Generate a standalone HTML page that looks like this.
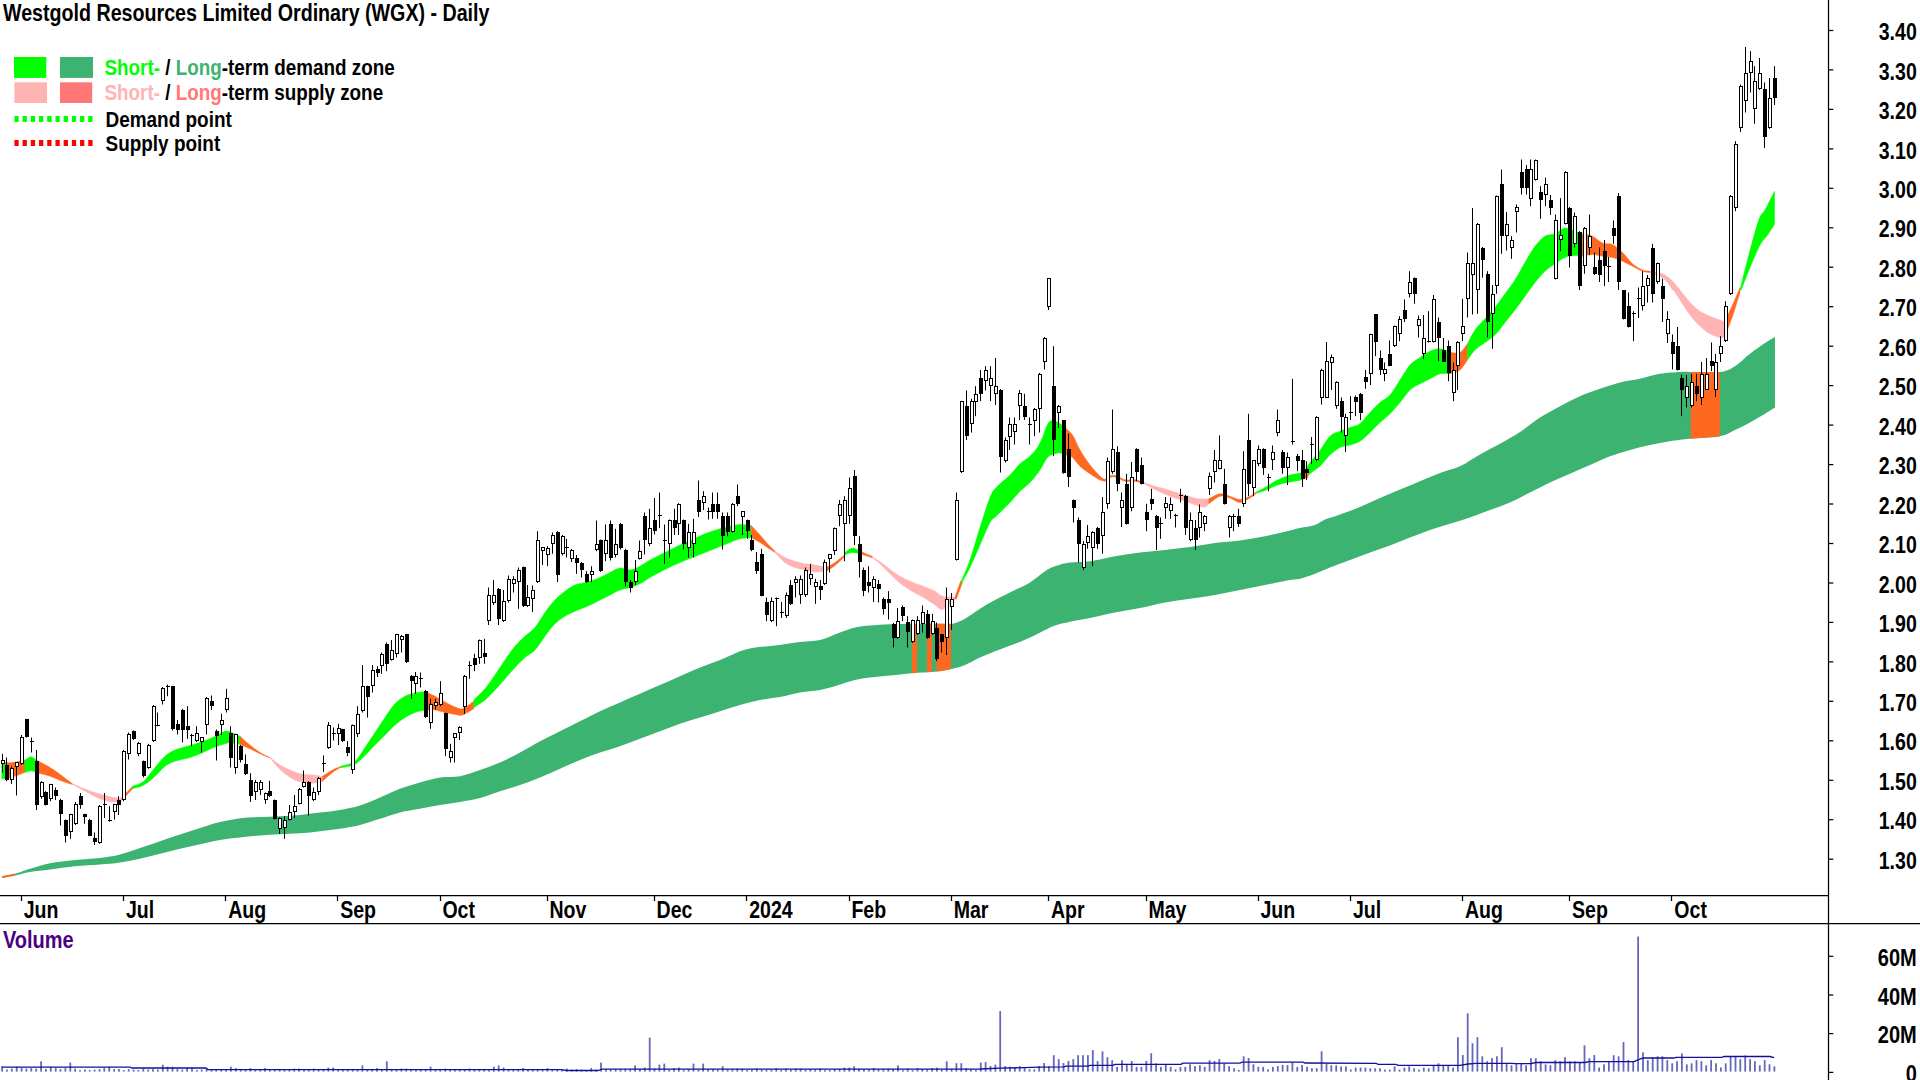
<!DOCTYPE html>
<html><head><meta charset="utf-8"><title>WGX Daily</title>
<style>html,body{margin:0;padding:0;background:#fff;overflow:hidden}svg{display:block}</style></head>
<body><svg width="1920" height="1080" viewBox="0 0 1920 1080">
<rect width="1920" height="1080" fill="#fff"/>
<path fill="#3cb371" d="M2 876.2C4.2 875.8 10.3 875 15 873.8C19.7 872.5 24.2 870.5 30 868.8C35.8 867 42.5 864.7 50 863.2C57.5 861.8 66.7 860.9 75 860C83.3 859.1 92.5 858.9 100 858C107.5 857.1 113.3 856.2 120 854.5C126.7 852.8 133.3 850.2 140 848C146.7 845.8 153.3 843.5 160 841.2C166.7 839 173.3 836.7 180 834.5C186.7 832.3 193.3 830.1 200 828C206.7 825.9 213.3 823.6 220 822C226.7 820.4 233.3 819.1 240 818.2C246.7 817.4 253.3 817.3 260 817C266.7 816.7 273.3 816.6 280 816.2C286.7 815.9 293.3 815.6 300 815C306.7 814.4 313.3 813.3 320 812.5C326.7 811.7 333.3 811.2 340 810C346.7 808.8 353.3 807.6 360 805.5C366.7 803.4 373.3 800.3 380 797.5C386.7 794.7 393.3 791.2 400 788.8C406.7 786.2 413.3 784.4 420 782.5C426.7 780.6 433.3 778.5 440 777.5C446.7 776.5 453.3 777.5 460 776.2C466.7 775 473.3 772.3 480 770C486.7 767.7 493.3 765.4 500 762.5C506.7 759.6 513.3 756 520 752.5C526.7 749 533.3 744.8 540 741.2C546.7 737.7 553.3 734.6 560 731.2C566.7 727.9 573.3 724.6 580 721.2C586.7 717.9 593.3 714.4 600 711.2C606.7 708.1 613.3 705.4 620 702.5C626.7 699.6 633.3 696.7 640 693.8C646.7 690.8 653.3 687.9 660 685C666.7 682.1 673.3 679.2 680 676.2C686.7 673.3 693.3 670.2 700 667.5C706.7 664.8 713.3 662.7 720 660C726.7 657.3 734.2 653.3 740 651.2C745.8 649.2 749.2 648.5 755 647.5C760.8 646.5 767.5 646.4 775 645.5C782.5 644.6 792.5 642.9 800 642C807.5 641.1 813.3 641.6 820 640C826.7 638.4 834.2 634.6 840 632.5C845.8 630.4 850 628.7 855 627.5C860 626.3 864.2 626 870 625.5C875.8 625 882.5 624.5 890 624.2C897.5 624 906.7 623.8 915 623.8C923.3 623.7 933.8 623.8 940 623.8C946.2 623.8 948.3 624.6 952.5 623.8C956.7 622.9 960.4 621.2 965 618.8C969.6 616.2 975 611.9 980 608.8C985 605.6 989.2 603.1 995 600C1000.8 596.9 1009.2 592.9 1015 590C1020.8 587.1 1025 585.6 1030 582.5C1035 579.4 1040.8 574 1045 571.2C1049.2 568.5 1050.8 567.7 1055 566.2C1059.2 564.8 1064.2 563.3 1070 562.5C1075.8 561.7 1082.5 562.3 1090 561.2C1097.5 560.2 1106.7 557.7 1115 556.2C1123.3 554.8 1131.7 553.5 1140 552.5C1148.3 551.5 1156.7 550.9 1165 550C1173.3 549.1 1181.7 548.2 1190 547C1198.3 545.8 1206.7 544.1 1215 543C1223.3 541.9 1231.7 541.6 1240 540.5C1248.3 539.4 1256.7 537.9 1265 536.2C1273.3 534.6 1284.2 531.9 1290 530.5C1295.8 529.1 1295.8 528.9 1300 528C1304.2 527.1 1310.8 526.4 1315 525C1319.2 523.6 1320.8 521.2 1325 519.5C1329.2 517.8 1334.2 516.6 1340 514.5C1345.8 512.4 1353.3 509.8 1360 507C1366.7 504.2 1373.3 500.9 1380 498C1386.7 495.1 1393.3 492.3 1400 489.5C1406.7 486.7 1413.3 484 1420 481.2C1426.7 478.5 1433.3 475.5 1440 473C1446.7 470.5 1453.3 469.3 1460 466.2C1466.7 463.2 1473.3 458.2 1480 454.5C1486.7 450.8 1493.3 447.5 1500 443.8C1506.7 440 1513.3 436.4 1520 432C1526.7 427.6 1533.3 421.8 1540 417.5C1546.7 413.2 1553.3 409.8 1560 406.2C1566.7 402.7 1573.3 399.2 1580 396.2C1586.7 393.3 1593.3 391 1600 388.8C1606.7 386.5 1613.3 384.2 1620 382.5C1626.7 380.8 1633.3 380.2 1640 378.8C1646.7 377.3 1653.3 374.9 1660 373.8C1666.7 372.6 1675 372.3 1680 372C1685 371.7 1683.3 372 1690 372C1696.7 372 1712.5 373 1720 372C1727.5 371 1730 369.3 1735 366.2C1740 363.2 1745 357.6 1750 353.8C1755 349.9 1760.8 345.8 1765 343C1769.2 340.2 1773.3 338 1775 337L1775 407.5C1773.3 408.5 1769.2 411.2 1765 413.8C1760.8 416.2 1755 419.8 1750 422.5C1745 425.2 1740 427.7 1735 430C1730 432.3 1727.5 434.8 1720 436.2C1712.5 437.7 1698.3 437.9 1690 438.8C1681.7 439.6 1676.7 440.2 1670 441.2C1663.3 442.3 1656.7 443.5 1650 445C1643.3 446.5 1636.7 448.1 1630 450C1623.3 451.9 1616.7 453.8 1610 456.2C1603.3 458.8 1596.7 462.1 1590 465C1583.3 467.9 1576.7 470.8 1570 473.8C1563.3 476.7 1556.7 479.4 1550 482.5C1543.3 485.6 1536.7 489.2 1530 492.5C1523.3 495.8 1516.7 499.6 1510 502.5C1503.3 505.4 1496.7 507.5 1490 510C1483.3 512.5 1476.7 515.2 1470 517.5C1463.3 519.8 1456.7 521.7 1450 523.8C1443.3 525.8 1436.7 527.7 1430 530C1423.3 532.3 1416.7 534.9 1410 537.5C1403.3 540.1 1396.7 543 1390 545.5C1383.3 548 1376.7 550.1 1370 552.5C1363.3 554.9 1356.7 557.5 1350 560C1343.3 562.5 1335.8 565.2 1330 567.5C1324.2 569.8 1320 571.9 1315 573.8C1310 575.6 1304.2 577.7 1300 578.8C1295.8 579.8 1295.8 579 1290 580C1284.2 581 1273.3 583.3 1265 585C1256.7 586.7 1248.3 588.3 1240 590C1231.7 591.7 1223.3 593.5 1215 595C1206.7 596.5 1198.3 597.5 1190 598.8C1181.7 600 1173.3 601 1165 602.5C1156.7 604 1148.3 606.3 1140 608C1131.7 609.7 1123.3 610.8 1115 612.5C1106.7 614.2 1097.5 616.5 1090 618C1082.5 619.5 1075.8 620.5 1070 621.8C1064.2 623 1059.2 624.1 1055 625.5C1050.8 626.9 1049.2 628 1045 630C1040.8 632 1035 635.2 1030 637.5C1025 639.8 1020.8 641.5 1015 643.8C1009.2 646 1000.8 649 995 651.2C989.2 653.5 985 655.2 980 657.5C975 659.8 969.6 663.1 965 665C960.4 666.9 956.7 667.7 952.5 668.8C948.3 669.8 946.2 670.5 940 671.2C933.8 672 923.3 672.3 915 673C906.7 673.7 897.5 674.8 890 675.5C882.5 676.2 875.8 676.8 870 677.5C864.2 678.2 860 678.8 855 680C850 681.2 845.8 682.8 840 684.5C834.2 686.2 826.7 688.7 820 690C813.3 691.3 806.7 691.3 800 692.5C793.3 693.7 786.7 695.8 780 697C773.3 698.2 766.7 698.7 760 700C753.3 701.3 746.7 703.1 740 705C733.3 706.9 726.7 709.2 720 711.2C713.3 713.3 706.7 715.4 700 717.5C693.3 719.6 686.7 721.5 680 723.8C673.3 726 666.7 728.8 660 731.2C653.3 733.8 646.7 736.2 640 738.8C633.3 741.2 626.7 744 620 746.2C613.3 748.5 606.7 750.2 600 752.5C593.3 754.8 586.7 757.3 580 760C573.3 762.7 566.7 765.8 560 768.8C553.3 771.7 546.7 774.8 540 777.5C533.3 780.2 526.7 782.7 520 785C513.3 787.3 506.7 789.1 500 791.2C493.3 793.4 486.7 796.2 480 798C473.3 799.8 466.7 800.8 460 802C453.3 803.2 446.7 803.9 440 805C433.3 806.1 426.7 807.5 420 808.8C413.3 810 406.7 810.8 400 812.5C393.3 814.2 386.7 816.7 380 818.8C373.3 820.8 366.7 823.3 360 825C353.3 826.7 346.7 827.7 340 828.8C333.3 829.8 326.7 830.5 320 831.2C313.3 832 306.7 832.8 300 833.2C293.3 833.8 286.7 833.9 280 834.2C273.3 834.6 266.7 835 260 835.5C253.3 836 246.7 836.8 240 837.5C233.3 838.2 226.7 838.9 220 840C213.3 841.1 206.7 842.8 200 844.2C193.3 845.7 186.7 847.2 180 848.8C173.3 850.3 166.7 852.1 160 853.8C153.3 855.4 146.7 857.3 140 858.8C133.3 860.2 126.7 861.5 120 862.5C113.3 863.5 107.5 863.9 100 864.5C92.5 865.1 83.3 865.4 75 866.2C66.7 867.1 57.5 868.5 50 869.5C42.5 870.5 35.8 871 30 872C24.2 873 19.7 874.5 15 875.5C10.3 876.5 4.2 877.6 2 878Z"/>
<polygon fill="#ff6820" points="2,876.3 15,873.6 15,875.4 2,878"/>
<polygon fill="#ff6820" points="912,623.8 912.8,623.8 913.7,623.8 914.5,623.8 915.3,623.8 916.2,623.8 917,623.8 917,672.9 916.2,672.9 915.3,673 914.5,673 913.7,673.1 912.8,673.2 912,673.3"/>
<polygon fill="#ff6820" points="927,623.8 927.8,623.8 928.7,623.8 929.5,623.8 930.3,623.8 931.2,623.8 932,623.8 932,671.8 931.2,671.9 930.3,671.9 929.5,672 928.7,672 927.8,672.1 927,672.2"/>
<polygon fill="#ff6820" points="936.5,623.8 938.9,623.8 941.3,623.8 943.8,623.8 946.2,623.8 948.6,623.8 951,623.8 951,669 948.6,669.5 946.2,670 943.8,670.5 941.3,671 938.9,671.3 936.5,671.5"/>
<polygon fill="#ff6820" points="1690.8,372 1695.6,372 1700.5,372 1705.4,372 1710.2,372 1715.1,372 1720,372 1720,436.2 1715.1,436.7 1710.2,437.1 1705.4,437.5 1700.5,437.9 1695.6,438.3 1690.8,438.7"/>
<path fill="#00ff00" stroke="#00ff00" stroke-width="0.5" d="M1.8 762.5C2.4 762.5 4.9 762.5 5.5 762.5L5.5 778.2C4.9 778.4 2.4 778.9 1.8 779Z"/>
<path fill="#ff6820" stroke="#ff6820" stroke-width="0.5" d="M5.5 762.5C6.7 762.5 9.2 762.9 12.5 762.5C15.8 762.1 22.9 760.4 25 760L25 772.5C22.9 773.2 15.8 776 12.5 777C9.2 778 6.7 778 5.5 778.2Z"/>
<path fill="#00ff00" stroke="#00ff00" stroke-width="0.5" d="M25 760C26 759.5 29.4 756.8 31.2 756.8C33.1 756.8 35.4 759.5 36.2 760L36.2 772.5C35.4 772.2 33.1 770.8 31.2 770.8C29.4 770.8 26 772.2 25 772.5Z"/>
<path fill="#ff6820" stroke="#ff6820" stroke-width="0.5" d="M36.2 760C38.5 761.2 45.6 764.8 50 767.5C54.4 770.2 58.8 773.5 62.5 776.2C66.2 779 70.8 782.5 72.5 783.8L72.5 784.5C70.8 784 66.2 782.6 62.5 781.2C58.8 779.9 54.4 777.7 50 776.2C45.6 774.8 38.5 773.1 36.2 772.5Z"/>
<path fill="#ffb3b3" stroke="#ffb3b3" stroke-width="0.5" d="M72.5 783.8C75 784.8 82.1 788 87.5 790C92.9 792 100 794.2 105 795.5C110 796.8 114.6 797.8 117.5 798C120.4 798.2 121.7 797.2 122.5 797L122.5 800C120.8 800.3 116.2 802.2 112.5 802C108.8 801.8 104.2 800.3 100 798.8C95.8 797.2 92.1 794.9 87.5 792.5C82.9 790.1 75 785.8 72.5 784.5Z"/>
<path fill="#ff6820" stroke="#ff6820" stroke-width="0.5" d="M122.5 797C124.2 795.2 130.8 788 132.5 786.2L132.5 788.8C130.8 790.6 124.2 798.1 122.5 800Z"/>
<path fill="#00ff00" stroke="#00ff00" stroke-width="0.5" d="M132.5 786.2C134.4 785.4 140 784.4 143.8 781.2C147.5 778.1 151.5 771.7 155 767.5C158.5 763.3 161.7 759.2 165 756.2C168.3 753.3 170.8 751.8 175 750C179.2 748.2 185.8 746.8 190 745.5C194.2 744.2 196.2 743.8 200 742.5C203.8 741.2 208.3 739.4 212.5 737.5C216.7 735.6 221.9 732.1 225 731.2C228.1 730.4 228.8 731.7 231.2 732.5C233.8 733.3 238.5 735.6 240 736.2L240 744.5C238.5 744.2 233.8 742.6 231.2 742.5C228.8 742.4 228.1 742.8 225 743.8C221.9 744.7 216.7 746.3 212.5 748C208.3 749.7 203.8 752.2 200 753.8C196.2 755.3 194.2 756.2 190 757.5C185.8 758.8 179.2 759.8 175 761.2C170.8 762.7 168.3 763.8 165 766.2C161.7 768.8 158.5 773.1 155 776.2C151.5 779.4 147.5 782.9 143.8 785C140 787.1 134.4 788.1 132.5 788.8Z"/>
<path fill="#ff6820" stroke="#ff6820" stroke-width="0.5" d="M240 736.2C241.7 737.7 246.7 742.3 250 745C253.3 747.7 256.7 750.4 260 752.5C263.3 754.6 268.3 756.7 270 757.5L270 758C268.3 757.3 263.3 755.3 260 753.8C256.7 752.2 253.3 750.3 250 748.8C246.7 747.2 241.7 745.2 240 744.5Z"/>
<path fill="#ffb3b3" stroke="#ffb3b3" stroke-width="0.5" d="M270 757.5C271.7 758.8 276.7 762.9 280 765C283.3 767.1 286.7 768.5 290 770C293.3 771.5 296.2 772.9 300 773.8C303.8 774.6 308.8 774.6 312.5 775C316.2 775.4 320.8 776 322.5 776.2L322.5 781.8C320.8 782 316.2 783.2 312.5 783.2C308.8 783.2 303.8 782.8 300 781.8C296.2 780.8 293.3 779.3 290 777.2C286.7 775.2 283.3 772.7 280 769.5C276.7 766.3 271.7 759.9 270 758Z"/>
<path fill="#ff6820" stroke="#ff6820" stroke-width="0.5" d="M322.5 776.2C324.2 775.2 329.4 771.7 332.5 770C335.6 768.3 339.8 766.9 341.2 766.2L341.2 767C339.8 767.9 335.6 770.1 332.5 772.5C329.4 774.9 324.2 779.8 322.5 781.2Z"/>
<path fill="#00ff00" stroke="#00ff00" stroke-width="0.5" d="M341.2 766.2C343.5 765.4 351 764.4 355 761.2C359 758.1 361.7 752.3 365 747.5C368.3 742.7 371.7 737.5 375 732.5C378.3 727.5 381.7 722.3 385 717.5C388.3 712.7 391.7 707.3 395 703.8C398.3 700.2 401.7 698 405 696.2C408.3 694.5 411.7 693.8 415 693C418.3 692.2 423.3 692 425 691.8L425 710C423.3 710.4 418.3 711.2 415 712.5C411.7 713.8 408.3 715.4 405 717.5C401.7 719.6 398.3 722.1 395 725C391.7 727.9 388.3 731.7 385 735C381.7 738.3 378.3 741.6 375 745C371.7 748.4 368.3 752.3 365 755.5C361.7 758.7 359 762.2 355 764.2C351 766.3 343.5 767.2 341.2 767.8Z"/>
<path fill="#ff6820" stroke="#ff6820" stroke-width="0.5" d="M425 691.8C426.7 692.5 431.7 694.5 435 696.2C438.3 698 441.7 700.2 445 702C448.3 703.8 452.1 705.9 455 707C457.9 708.1 459.4 709.7 462.5 708.8C465.6 707.8 471.9 702.5 473.8 701.2L473.8 708.8C471.9 709.8 465.6 714 462.5 715C459.4 716 457.9 714.9 455 714.5C452.1 714.1 448.3 713.2 445 712.5C441.7 711.8 438.3 710.4 435 710C431.7 709.6 426.7 710 425 710Z"/>
<path fill="#00ff00" stroke="#00ff00" stroke-width="0.5" d="M473.8 700C475.6 698.1 481.5 692.9 485 688.8C488.5 684.6 491.7 679.8 495 675C498.3 670.2 501.7 664.8 505 660C508.3 655.2 511.7 650.2 515 646.2C518.3 642.3 521.7 639.4 525 636.2C528.3 633.1 531.7 631.5 535 627.5C538.3 623.5 541.7 617.1 545 612.5C548.3 607.9 551.7 603.5 555 600C558.3 596.5 561.7 593.8 565 591.2C568.3 588.8 571.2 586.5 575 585C578.8 583.5 583.3 583.2 587.5 582C591.7 580.8 596.2 579.1 600 577.5C603.8 575.9 606.7 574.1 610 572.5C613.3 570.9 616.7 568.4 620 568C623.3 567.6 626.7 570.3 630 570C633.3 569.7 636.7 567.9 640 566.2C643.3 564.6 646.7 561.9 650 560C653.3 558.1 656.7 556.7 660 555C663.3 553.3 666.7 551.7 670 550C673.3 548.3 676.2 546.8 680 545C683.8 543.2 688.3 541.4 692.5 539.5C696.7 537.6 700.8 535.4 705 533.8C709.2 532.1 713.3 530.8 717.5 529.5C721.7 528.2 726.2 527.1 730 526.2C733.8 525.4 736.5 524.6 740 524.5C743.5 524.4 749.4 525.3 751.2 525.5L751.2 537.5C749.4 537.7 743.5 537.9 740 538.8C736.5 539.6 733.8 541 730 542.5C726.2 544 721.7 545.8 717.5 547.5C713.3 549.2 709.2 550.8 705 552.5C700.8 554.2 696.7 555.8 692.5 557.5C688.3 559.2 683.8 560.9 680 562.5C676.2 564.1 673.3 565.4 670 567C666.7 568.6 663.3 570.2 660 572C656.7 573.8 653.3 575.5 650 577.5C646.7 579.5 643.3 582.1 640 583.8C636.7 585.4 633.3 586.5 630 587.5C626.7 588.5 623.3 588.8 620 590C616.7 591.2 613.3 593.3 610 595C606.7 596.7 603.8 598.1 600 600C596.2 601.9 591.7 604.4 587.5 606.2C583.3 608.1 578.8 609.6 575 611.2C571.2 612.9 568.3 614.2 565 616.2C561.7 618.3 558.3 620.4 555 623.8C551.7 627.1 548.3 631.9 545 636.2C541.7 640.6 538.3 646.5 535 650C531.7 653.5 528.3 654.6 525 657.5C521.7 660.4 518.3 664 515 667.5C511.7 671 508.3 675 505 678.8C501.7 682.5 498.3 686.5 495 690C491.7 693.5 488.5 697.1 485 700C481.5 702.9 475.6 706.2 473.8 707.5Z"/>
<path fill="#ff6820" stroke="#ff6820" stroke-width="0.5" d="M751.2 525.5C752.7 527.1 757.3 532 760 535C762.7 538 765 541 767.5 543.8C770 546.5 773.8 550 775 551.2L775 552.5C773.8 551.7 770 549.2 767.5 547.5C765 545.8 762.7 544.2 760 542.5C757.3 540.8 752.7 538.3 751.2 537.5Z"/>
<path fill="#ffb3b3" stroke="#ffb3b3" stroke-width="0.5" d="M775 551.2C776.7 552.3 781.7 555.8 785 557.5C788.3 559.2 791.7 560.2 795 561.2C798.3 562.3 801.7 563.1 805 563.8C808.3 564.4 811.5 564.4 815 565C818.5 565.6 824.4 567.1 826.2 567.5L826.2 571.2C824.4 571.4 818.5 572.2 815 572C811.5 571.8 808.3 570.8 805 570C801.7 569.2 798.3 568.8 795 567.5C791.7 566.2 788.3 565 785 562.5C781.7 560 776.7 554.2 775 552.5Z"/>
<path fill="#ff6820" stroke="#ff6820" stroke-width="0.5" d="M826.2 567.5C827.7 566.7 831.9 564.7 835 562.5C838.1 560.3 843.3 555.8 845 554.5L845 556.2C843.3 557.8 838.1 563 835 565.5C831.9 568 827.7 570.3 826.2 571.2Z"/>
<path fill="#00ff00" stroke="#00ff00" stroke-width="0.5" d="M845 552.5C846.2 551.8 850 548.2 852.5 548C855 547.8 858.8 550.7 860 551.2L860 553.8C858.8 553.5 855 552.4 852.5 552.5C850 552.6 846.2 554.2 845 554.5Z"/>
<path fill="#ff6820" stroke="#ff6820" stroke-width="0.5" d="M860 551.2C862.1 552.1 870.4 555.6 872.5 556.5L872.5 557.8C870.4 557.1 862.1 554.4 860 553.8Z"/>
<path fill="#ffb3b3" stroke="#ffb3b3" stroke-width="0.5" d="M872.5 556.9C874 557.8 878.3 560.4 881.2 562.5C884.2 564.6 886.9 567.1 890 569.4C893.1 571.7 896.7 574.3 900 576.2C903.3 578.2 906.7 579.8 910 581.2C913.3 582.7 917.1 583.9 920 585C922.9 586.1 925 587.1 927.5 588.1C930 589.2 932.9 590.1 935 591.2C937.1 592.4 938.1 594 940 595C941.9 596 944.2 596.9 946.2 597.2C948.3 597.6 951 596.6 952.5 596.9C954 597.1 955 598.4 955.5 598.8L955.5 598.8C955 599.4 954 601 952.5 602.5C951 604 948.1 606.4 946.2 607.5C944.4 608.6 943.1 609.8 941.2 609.4C939.4 609 937.3 606.6 935 605C932.7 603.4 930 601.6 927.5 600C925 598.4 922.9 597.3 920 595.6C917.1 594 913.3 592.1 910 590C906.7 587.9 903.3 585.8 900 583.1C896.7 580.4 893.1 576.8 890 573.8C886.9 570.7 884.2 567.7 881.2 565C878.3 562.3 874 558.8 872.5 557.5Z"/>
<path fill="#ff6820" stroke="#ff6820" stroke-width="0.5" d="M954.5 598.5C955.5 595.5 959.7 583.7 960.8 580.8L962.5 582.5C961.5 585.2 957.5 596.2 956.5 599Z"/>
<path fill="#00ff00" stroke="#00ff00" stroke-width="0.5" d="M961.2 581.2C962.7 577.7 966.9 569 970 560C973.1 551 976.7 537.9 980 527.5C983.3 517.1 987.3 504.2 990 497.5C992.7 490.8 992.9 491.2 996.2 487.5C999.6 483.8 1006 479 1010 475C1014 471 1016.7 466.9 1020 463.8C1023.3 460.6 1027.1 459 1030 456.2C1032.9 453.5 1035.4 450.6 1037.5 447.5C1039.6 444.4 1041 440.8 1042.5 437.5C1044 434.2 1045 430.2 1046.2 427.5C1047.5 424.8 1048.1 422.2 1050 421.2C1051.9 420.3 1054.8 420.8 1057.5 422C1060.2 423.2 1064.8 427.6 1066.2 428.8L1066.2 455C1065.2 454.7 1061.9 453.2 1060 453C1058.1 452.8 1057.1 453 1055 453.8C1052.9 454.5 1050 454.8 1047.5 457.5C1045 460.2 1042.9 465.8 1040 470C1037.1 474.2 1033.3 479 1030 482.5C1026.7 486 1023.3 487.9 1020 491.2C1016.7 494.6 1014 498.3 1010 502.5C1006 506.7 999.6 512.9 996.2 516.2C992.9 519.6 992.7 517.7 990 522.5C987.3 527.3 983.3 537.5 980 545C976.7 552.5 973.1 561 970 567.5C966.9 574 962.7 581 961.2 583.8Z"/>
<path fill="#ff6820" stroke="#ff6820" stroke-width="0.5" d="M1066.2 428.8C1067.3 429.8 1070.2 431.5 1072.5 435C1074.8 438.5 1077.1 445 1080 450C1082.9 455 1086.7 460.6 1090 465C1093.3 469.4 1097.5 473.8 1100 476.2C1102.5 478.7 1104.2 479 1105 479.5L1105 481.2C1104.2 481 1102.5 481.2 1100 480C1097.5 478.8 1093.3 476 1090 473.8C1086.7 471.5 1082.9 469 1080 466.2C1077.1 463.5 1074.8 459.4 1072.5 457.5C1070.2 455.6 1067.3 455.4 1066.2 455Z"/>
<path fill="#ff6820" stroke="#ff6820" stroke-width="0.5" d="M1105 479.5C1106 478.8 1109.2 476 1111.2 475.5C1113.3 475 1115.2 475.5 1117.5 476.2C1119.8 477 1122.1 479.2 1125 479.8C1127.9 480.3 1131.9 479.3 1135 479.8C1138.1 480.2 1142.3 482 1143.8 482.5L1143.8 483.5C1142.3 483.1 1138.1 481.6 1135 481.2C1131.9 480.9 1127.9 481.8 1125 481.2C1122.1 480.7 1119.8 478.5 1117.5 477.8C1115.2 477 1113.3 476.4 1111.2 477C1109.2 477.6 1106 480.5 1105 481.2Z"/>
<path fill="#ffb3b3" stroke="#ffb3b3" stroke-width="0.5" d="M1143.8 482.5C1145.6 483.1 1150.6 484.9 1155 486.2C1159.4 487.6 1165 489 1170 490.5C1175 492 1180.4 493.6 1185 495C1189.6 496.4 1193.5 498.1 1197.5 498.8C1201.5 499.4 1206.9 498.8 1208.8 498.8L1208.8 503.8C1208.1 504.3 1206.9 506.7 1205 507C1203.1 507.3 1200.8 506.5 1197.5 505.5C1194.2 504.5 1189.6 502.8 1185 501.2C1180.4 499.7 1175 498.2 1170 496.2C1165 494.3 1159.4 491.6 1155 489.5C1150.6 487.4 1145.6 484.5 1143.8 483.5Z"/>
<path fill="#ff6820" stroke="#ff6820" stroke-width="0.5" d="M1208.8 498.8C1210.6 497.9 1216.5 494.2 1220 493.8C1223.5 493.3 1226.7 495.3 1230 496.2C1233.3 497.2 1236.7 499.5 1240 499.5C1243.3 499.5 1247.3 497.5 1250 496.2C1252.7 495 1255.2 492.7 1256.2 492L1256.2 493.2C1255.2 494 1252.7 496.5 1250 498C1247.3 499.5 1243.3 502.5 1240 502.5C1236.7 502.5 1233.3 499 1230 498C1226.7 497 1223.5 495.3 1220 496.2C1216.5 497.2 1210.6 502.5 1208.8 503.8Z"/>
<path fill="#00ff00" stroke="#00ff00" stroke-width="0.5" d="M1256.2 492C1257.7 491.2 1261.5 489.5 1265 487.5C1268.5 485.5 1273.3 482.1 1277.5 480C1281.7 477.9 1285.8 476.3 1290 475C1294.2 473.7 1299.2 474.1 1302.5 472C1305.8 469.9 1307.1 466.1 1310 462.5C1312.9 458.9 1318.3 452.5 1320 450.5L1320 466.2C1318.3 467.5 1312.9 471.5 1310 473.8C1307.1 476 1305.8 478.1 1302.5 479.5C1299.2 480.9 1294.2 481.1 1290 482C1285.8 482.9 1281.7 483.6 1277.5 485C1273.3 486.4 1268.5 489.1 1265 490.5C1261.5 491.9 1257.7 492.8 1256.2 493.2Z"/>
<path fill="#00ff00" stroke="#00ff00" stroke-width="0.5" d="M1320 450.5C1321.7 448.1 1326.7 439.5 1330 436.2C1333.3 433 1336.7 432.7 1340 431.2C1343.3 429.8 1346.7 428.8 1350 427.5C1353.3 426.2 1356.7 426.2 1360 423.8C1363.3 421.2 1366.7 416 1370 412.5C1373.3 409 1376.7 405.4 1380 402.5C1383.3 399.6 1386.7 398.8 1390 395C1393.3 391.2 1396.7 385 1400 380C1403.3 375 1406.7 368.8 1410 365C1413.3 361.2 1416.7 359.8 1420 357.5C1423.3 355.2 1426.7 352.7 1430 351.2C1433.3 349.8 1436.7 348.5 1440 348.8C1443.3 349 1448.3 351.9 1450 352.5L1450 373.8C1448.3 373.8 1443.3 372.9 1440 373.8C1436.7 374.6 1433.3 377.1 1430 378.8C1426.7 380.4 1423.3 381.9 1420 383.8C1416.7 385.6 1413.3 386.9 1410 390C1406.7 393.1 1403.3 398.5 1400 402.5C1396.7 406.5 1393.3 410.4 1390 413.8C1386.7 417.1 1383.3 419.4 1380 422.5C1376.7 425.6 1373.3 429.4 1370 432.5C1366.7 435.6 1363.3 439.2 1360 441.2C1356.7 443.3 1353.3 444 1350 445C1346.7 446 1343.3 445.8 1340 447.5C1336.7 449.2 1333.3 451.9 1330 455C1326.7 458.1 1321.7 464.4 1320 466.2Z"/>
<path fill="#ff6820" stroke="#ff6820" stroke-width="0.5" d="M1450 352.5C1451.7 352.5 1457.1 354 1460 352.5C1462.9 351 1466.2 345.2 1467.5 343.8L1467.5 360C1466.2 361.7 1462.9 367.7 1460 370C1457.1 372.3 1451.7 373.1 1450 373.8Z"/>
<path fill="#00ff00" stroke="#00ff00" stroke-width="0.5" d="M1467.5 343.8C1468.8 341.5 1472.1 334.2 1475 330C1477.9 325.8 1481.7 322.5 1485 318.8C1488.3 315 1491.7 311.7 1495 307.5C1498.3 303.3 1501.7 298.3 1505 293.8C1508.3 289.2 1511.7 285.2 1515 280C1518.3 274.8 1521.7 268.1 1525 262.5C1528.3 256.9 1531.7 250.6 1535 246.2C1538.3 241.9 1541.7 238.3 1545 236.2C1548.3 234.2 1551.7 235.1 1555 233.8C1558.3 232.4 1561.7 228.4 1565 228C1568.3 227.6 1572.1 230.3 1575 231.2C1577.9 232.2 1581.2 233.3 1582.5 233.8L1582.5 256.2C1581.2 256.1 1577.9 255.3 1575 255.5C1572.1 255.7 1568.3 256.1 1565 257.5C1561.7 258.9 1558.3 261.5 1555 263.8C1551.7 266 1548.3 268.1 1545 271.2C1541.7 274.4 1538.3 278.3 1535 282.5C1531.7 286.7 1528.3 291.7 1525 296.2C1521.7 300.8 1518.3 305.6 1515 310C1511.7 314.4 1508.3 318.3 1505 322.5C1501.7 326.7 1498.3 331.7 1495 335C1491.7 338.3 1488.3 340 1485 342.5C1481.7 345 1477.9 347.1 1475 350C1472.1 352.9 1468.8 358.3 1467.5 360Z"/>
<path fill="#ff6820" stroke="#ff6820" stroke-width="0.5" d="M1582.5 233.8C1584.2 234.2 1589.2 234.7 1592.5 236.2C1595.8 237.8 1599.2 241.6 1602.5 243C1605.8 244.4 1609.2 242.9 1612.5 244.5C1615.8 246.1 1619.2 249.3 1622.5 252.5C1625.8 255.7 1629.2 260.8 1632.5 263.8C1635.8 266.7 1639.6 268.8 1642.5 270C1645.4 271.2 1648.8 271 1650 271.2L1650 272.5C1648.8 272.3 1645.4 272.3 1642.5 271.2C1639.6 270.2 1635.8 267.9 1632.5 266.2C1629.2 264.6 1625.8 262.7 1622.5 261.2C1619.2 259.8 1615.8 258.3 1612.5 257.5C1609.2 256.7 1605.8 256.8 1602.5 256.2C1599.2 255.8 1595.8 254.5 1592.5 254.5C1589.2 254.5 1584.2 256 1582.5 256.2Z"/>
<path fill="#ffb3b3" stroke="#ffb3b3" stroke-width="0.5" d="M1650 271.2C1651.7 271.7 1656.7 272.5 1660 273.8C1663.3 275 1666.7 276 1670 278.8C1673.3 281.5 1676.7 286 1680 290C1683.3 294 1686.7 299 1690 302.5C1693.3 306 1696.7 309 1700 311.2C1703.3 313.5 1706.7 314.8 1710 316.2C1713.3 317.7 1717.5 319 1720 320C1722.5 321 1724.2 322.1 1725 322.5L1725 336.2C1724.2 336.5 1722.5 337.9 1720 337.5C1717.5 337.1 1713.3 335.6 1710 333.8C1706.7 331.9 1703.3 329.4 1700 326.2C1696.7 323.1 1693.3 319.4 1690 315C1686.7 310.6 1683.3 305 1680 300C1676.7 295 1673.3 289 1670 285C1666.7 281 1663.3 278.3 1660 276.2C1656.7 274.2 1651.7 273.1 1650 272.5Z"/>
<path fill="#ff6820" stroke="#ff6820" stroke-width="0.5" d="M1725 321.2C1726.2 318.5 1730 310.6 1732.5 305C1735 299.4 1738.8 290.4 1740 287.5L1740 292.5C1739 295.8 1735.8 306.2 1733.8 312.5C1731.7 318.8 1728.5 327.1 1727.5 330Z"/>
<path fill="#ffb3b3" stroke="#ffb3b3" stroke-width="0.5" d="M1655 272.5C1656.7 272.9 1661.7 272.9 1665 275C1668.3 277.1 1672.5 282.5 1675 285C1677.5 287.5 1679.2 289.2 1680 290L1672.5 290C1671.2 288.1 1667.9 281.5 1665 278.8C1662.1 276 1656.7 274.6 1655 273.8Z"/>
<path fill="#00ff00" stroke="#00ff00" stroke-width="0.5" d="M1740 290C1741.2 285 1744.4 271.7 1747.5 260C1750.6 248.3 1755.8 228.3 1758.8 220C1761.7 211.7 1762.4 214.8 1765 210C1767.6 205.2 1772.9 194.4 1774.5 191.2L1774.5 224.5C1773.3 226.2 1769.9 231.6 1767.5 235C1765.1 238.4 1762.9 239.6 1760 245C1757.1 250.4 1753.1 260 1750 267.5C1746.9 275 1742.7 286.2 1741.2 290Z"/>
<path fill="#ff6820" stroke="#ff6820" stroke-width="0.5" d="M1301.5 471.5C1302.6 471.2 1306.9 470.2 1308 470L1308 477.5C1306.9 477.8 1302.6 478.8 1301.5 479Z"/>
<path stroke="#000" stroke-width="1" fill="none" d="M2.5 753.8V772.5M6.5 757.5V781.2M11.5 766.2V783.8M16.5 762V795.5M21.5 735V765M26.5 718.8V737.5M31.5 737.5V752.5M36.5 750V810M41.5 781.2V798.8M45.5 791.2V805.5M50.5 783.8V801.2M55.5 787.5V800M60.5 798.8V825.5M65.5 819.5V842.5M70.5 813.8V838.8M75.5 802V825M80.5 793V808.8M84.5 813.8V823.8M89.5 818.8V836.2M94.5 832.5V845M99.5 805V843.8M104.5 793V818M109.5 806.2V821.8M114.5 803.8V819.5M118.5 796.2V815M123.5 750V801.2M128.5 732.5V759.5M133.5 730.5V740M138.5 742V756.2M143.5 760.5V777.5M148.5 743.8V768.8M153.5 705V742M157.5 712.5V726.2M162.5 687V704.5M167.5 684.5V696.2M172.5 685.8V730.5M177.5 720V734.5M182.5 708.8V742.5M187.5 706.2V738.8M191.5 733.8V746.2M196.5 726.2V742M201.5 737V752.5M206.5 697V734.5M211.5 695.5V710M216.5 729.5V760.5M221.5 713.8V735M226.5 688.8V712.5M230.5 726.2V767.5M235.5 733.8V773.8M240.5 745V762.5M245.5 754.5V775M250.5 773.2V802M255.5 780V800M260.5 780V795M265.5 792.5V803.8M269.5 780.8V797M274.5 799.5V819.5M279.5 817.5V833.8M284.5 816.2V838.8M289.5 805V820.5M294.5 795V818M299.5 788V804.5M303.5 770.5V787.5M308.5 781.2V815.5M313.5 787.5V801.2M318.5 777V795M323.5 755.5V772M328.5 722V748.8M333.5 727.5V740.5M338.5 723.8V745M342.5 728.8V742M347.5 741.2V756.2M352.5 724.5V773.8M357.5 706.2V737M362.5 665V712.5M367.5 685.8V717.5M372.5 665V692.5M377.5 666.2V677M381.5 652.5V673.8M386.5 642.5V671.2M391.5 640V660.5M396.5 633.8V657.5M401.5 635V652.5M406.5 633.8V663M411.5 675V698.8M415.5 672V693.8M420.5 672.5V687.5M425.5 690V718M430.5 698.8V728.8M435.5 698.8V709.5M440.5 681.2V706.2M445.5 712.5V756.2M450.5 743.8V762.5M454.5 733.8V762.5M459.5 726.2V740M464.5 675V713.8M469.5 661.2V678.8M474.5 653.8V671.2M479.5 639.5V663.8M484.5 638.8V663.8M488.5 587.5V625M493.5 580V605M498.5 588V625M503.5 590V621.9M508.5 575.5V602.5M513.5 576.2V592.5M518.5 567.5V608.8M523.5 566.5V607M527.5 585V607M532.5 585.5V612M537.5 531.2V583M542.5 547.5V565M547.5 546.2V566.2M552.5 532.5V553.8M557.5 531.2V582M562.5 535V555.5M566.5 538.8V557.5M571.5 548.8V562M576.5 555V573.8M581.5 562V577.5M586.5 571.2V583M591.5 566.2V582M596.5 520.5V551.2M600.5 539.5V572M605.5 524.5V561.2M610.5 520.5V560.5M615.5 528.8V557.5M620.5 523V549.5M625.5 548.8V586.2M630.5 580V592.5M635.5 560V585M639.5 540.5V559.5M644.5 512.5V554.5M649.5 508.8V546.2M654.5 498V534.5M659.5 492.5V528M664.5 524.5V563.8M669.5 519.5V557.5M674.5 508.8V535M678.5 503.2V535M683.5 519.5V549.5M688.5 523.8V557.5M693.5 518.8V557.5M698.5 480.5V517M703.5 491.2V510M708.5 507.5V519.5M712.5 492.5V518.8M717.5 492.5V518.8M722.5 512.5V549.5M727.5 512.5V536.2M732.5 503V532.5M737.5 484.5V506.2M742.5 511.5V535M747.5 519.5V538.8M751.5 535V551.2M756.5 552V573.8M761.5 548.8V596.2M766.5 597.5V621.2M771.5 597.5V622M776.5 597.5V626.2M781.5 602V618M786.5 592.5V618M790.5 580V605M795.5 576.2V597.5M800.5 575.5V603.8M805.5 567.5V597M810.5 563.8V585M815.5 578.8V603.8M820.5 580V600M824.5 559.5V585M829.5 554.5V572.5M834.5 527.5V555M839.5 500V526.2M844.5 496.2V561.2M849.5 477.5V523.8M854.5 470V545M859.5 536.2V577.5M863.5 567.5V596.2M868.5 566.2V592.5M873.5 576.2V602M878.5 580V602.5M883.5 597.5V614.5M888.5 591.2V619.5M893.5 623V647.5M897.5 608V638.8M902.5 605.5V621.2M907.5 616.2V647.5M912.5 619.5V643M917.5 616.2V635M922.5 605.5V632.5M927.5 610V638.8M932.5 613.8V635M936.5 622.5V661.2M941.5 633.8V652.5M946.5 587.5V655M951.5 593V630M956.5 492.5V560.5M961.5 400.8V473M966.5 390.5V440M971.5 398.8V432.5M975.5 386.2V416.2M980.5 370V401.2M985.5 366.2V390.5M990.5 366.2V401.2M995.5 358V405M1000.5 389V472.5M1005.5 437.5V462.5M1009.5 417.5V450M1014.5 417.5V444.5M1019.5 390V420M1024.5 393.8V420M1029.5 417.5V444.5M1034.5 408V436.2M1039.5 373V432.5M1044.5 337V369.5M1048.5 278V310M1053.5 346.2V456.2M1058.5 405V428M1063.5 420V473.8M1068.5 433.8V487M1073.5 499.5V522.5M1078.5 517.5V562.5M1083.5 541.2V570M1087.5 525V548.8M1092.5 531.2V566.2M1097.5 527V548.8M1102.5 497V553.8M1107.5 457.5V508.8M1112.5 409.5V473.8M1117.5 446.2V491.2M1121.5 492.5V527M1126.5 473.8V524.5M1131.5 462V511.2M1136.5 448.2V481.2M1141.5 457.5V484.5M1146.5 503.8V531.2M1151.5 488.8V510M1156.5 515V550M1160.5 517.5V538.8M1165.5 497V518.8M1170.5 497.5V518.8M1175.5 513.8V527.5M1180.5 488.8V502.5M1185.5 495V535M1190.5 512.5V541.2M1195.5 520V550M1199.5 504.5V537.5M1204.5 515V531.2M1209.5 472.5V495M1214.5 450V482.5M1219.5 435.5V469.5M1224.5 468.8V504.5M1229.5 515V537.5M1233.5 513.8V531.2M1238.5 508.8V527M1243.5 451.2V507M1248.5 413.8V496.2M1253.5 460V496.2M1258.5 445.5V466.2M1263.5 448.2V475M1268.5 473.8V491.2M1272.5 445.5V470M1277.5 409.5V436.2M1282.5 450V473.8M1287.5 452.5V485M1292.5 378.8V444.5M1297.5 453.8V471.2M1302.5 450V487M1306.5 461.2V480M1311.5 437V463.8M1316.5 416.2V461.2M1321.5 368.8V404.5M1326.5 342V398M1331.5 354.5V390M1336.5 381.2V408.8M1341.5 397.5V432.5M1345.5 413.8V452M1350.5 396.2V420M1355.5 395.5V416.2M1360.5 393V420M1365.5 370V388.8M1370.5 333.8V385M1375.5 314V356.2M1380.5 350.5V375M1384.5 362.5V381.2M1389.5 340.5V366.2M1394.5 325.5V347M1399.5 316.2V341.2M1404.5 299.5V322M1409.5 271.2V297.5M1414.5 277.5V303.8M1418.5 315.5V337.5M1423.5 315V358.8M1428.5 311.2V342.5M1433.5 295V342.5M1438.5 317.5V361.2M1443.5 338V362M1448.5 340.5V381.2M1453.5 362.5V401.2M1457.5 341.2V390M1462.5 298.8V341.2M1467.5 252.5V317.5M1472.5 208V314.5M1477.5 223V313.8M1482.5 247V277.5M1487.5 271.2V337.5M1492.5 285V348.8M1496.5 195.5V293.8M1501.5 169.5V253.8M1506.5 212V250.5M1511.5 236.2V258.8M1516.5 204.5V232.5M1521.5 159.5V194.5M1526.5 165V194.5M1530.5 159.5V206.2M1535.5 159.5V180.5M1540.5 186.2V218.8M1545.5 177.5V206.2M1550.5 195V215M1555.5 214.5V279.5M1560.5 198.1V251.2M1565.5 171.2V224.5M1569.5 207V267.5M1574.5 212.5V247.5M1579.5 231.2V290M1584.5 227V273.8M1589.5 214.5V255M1594.5 252.5V275M1599.5 247.5V282M1604.5 240V286.2M1608.5 257V282M1613.5 220.5V243.8M1618.5 193V290M1623.5 290V319.5M1628.5 292.5V327.5M1633.5 311.2V341.2M1638.5 287.5V318M1642.5 271.2V310.5M1647.5 275V302.5M1652.5 243.8V302.5M1657.5 262.5V283.8M1662.5 278.8V322M1667.5 311.2V343M1672.5 334.5V369.5M1677.5 327V370.5M1681.5 374.5V416.2M1686.5 375V407.5M1691.5 373.8V407.5M1696.5 373.8V401.2M1701.5 362V405M1706.5 358V390M1711.5 342.5V371.2M1715.5 353.8V397M1720.5 336.2V362M1725.5 301.2V342M1730.5 195V295M1735.5 141.2V211.2M1740.5 84.5V132M1745.5 47V112.5M1750.5 51.2V92.5M1754.5 66.2V123.8M1759.5 58V90M1764.5 82.5V148M1769.5 78V128.8M1774.5 66.2V105"/>
<g stroke="#000" stroke-width="1" fill="none"><rect x="1.5" y="760.5" width="3" height="3" fill="#fff"/><rect x="5.5" y="765.5" width="3" height="14" fill="#000"/><rect x="10.5" y="768.5" width="3" height="11" fill="#fff"/><rect x="15.5" y="762.5" width="3" height="4" fill="#fff"/><rect x="20.5" y="737.5" width="3" height="26" fill="#fff"/><rect x="25.5" y="719.5" width="3" height="17" fill="#000"/><path d="M30 741.5H34"/><rect x="35.5" y="761.5" width="3" height="43" fill="#000"/><rect x="40.5" y="782.5" width="3" height="14" fill="#fff"/><rect x="44.5" y="792.5" width="3" height="12" fill="#000"/><rect x="49.5" y="784.5" width="3" height="14" fill="#fff"/><rect x="54.5" y="790.5" width="3" height="5" fill="#000"/><rect x="59.5" y="800.5" width="3" height="13" fill="#000"/><rect x="64.5" y="820.5" width="3" height="15" fill="#000"/><rect x="69.5" y="814.5" width="3" height="17" fill="#fff"/><rect x="74.5" y="804.5" width="3" height="19" fill="#fff"/><rect x="79.5" y="796.5" width="3" height="8" fill="#000"/><rect x="83.5" y="814.5" width="3" height="2" fill="#000"/><rect x="88.5" y="820.5" width="3" height="15" fill="#000"/><rect x="93.5" y="838.5" width="3" height="3" fill="#000"/><rect x="98.5" y="806.5" width="3" height="36" fill="#fff"/><path d="M103 804.5H107"/><path d="M108 820.5H112"/><rect x="113.5" y="804.5" width="3" height="7" fill="#fff"/><rect x="117.5" y="800.5" width="3" height="4" fill="#000"/><rect x="122.5" y="751.5" width="3" height="48" fill="#fff"/><rect x="127.5" y="734.5" width="3" height="19" fill="#fff"/><rect x="132.5" y="731.5" width="3" height="7" fill="#000"/><rect x="137.5" y="743.5" width="3" height="10" fill="#fff"/><rect x="142.5" y="761.5" width="3" height="14" fill="#000"/><rect x="147.5" y="745.5" width="3" height="22" fill="#fff"/><rect x="152.5" y="706.5" width="3" height="34" fill="#fff"/><path d="M156 725.5H160"/><rect x="161.5" y="688.5" width="3" height="12" fill="#fff"/><path d="M166 686.5H170"/><rect x="171.5" y="686.5" width="3" height="42" fill="#000"/><rect x="176.5" y="724.5" width="3" height="5" fill="#000"/><rect x="181.5" y="710.5" width="3" height="19" fill="#000"/><rect x="186.5" y="726.5" width="3" height="3" fill="#000"/><path d="M190 735.5H194"/><rect x="195.5" y="733.5" width="3" height="7" fill="#fff"/><rect x="200.5" y="737.5" width="3" height="4" fill="#fff"/><rect x="205.5" y="698.5" width="3" height="26" fill="#fff"/><rect x="210.5" y="701.5" width="3" height="4" fill="#000"/><rect x="215.5" y="731.5" width="3" height="4" fill="#000"/><rect x="220.5" y="720.5" width="3" height="4" fill="#fff"/><rect x="225.5" y="698.5" width="3" height="11" fill="#fff"/><rect x="229.5" y="733.5" width="3" height="24" fill="#000"/><rect x="234.5" y="734.5" width="3" height="33" fill="#fff"/><rect x="239.5" y="746.5" width="3" height="13" fill="#000"/><rect x="244.5" y="764.5" width="3" height="9" fill="#000"/><rect x="249.5" y="780.5" width="3" height="15" fill="#000"/><rect x="254.5" y="782.5" width="3" height="9" fill="#fff"/><rect x="259.5" y="782.5" width="3" height="7" fill="#fff"/><rect x="264.5" y="793.5" width="3" height="6" fill="#fff"/><rect x="268.5" y="791.5" width="3" height="4" fill="#000"/><rect x="273.5" y="800.5" width="3" height="18" fill="#000"/><rect x="278.5" y="818.5" width="3" height="10" fill="#fff"/><rect x="283.5" y="820.5" width="3" height="7" fill="#fff"/><rect x="288.5" y="812.5" width="3" height="7" fill="#fff"/><rect x="293.5" y="806.5" width="3" height="5" fill="#fff"/><rect x="298.5" y="789.5" width="3" height="14" fill="#fff"/><rect x="302.5" y="782.5" width="3" height="4" fill="#fff"/><rect x="307.5" y="782.5" width="3" height="13" fill="#000"/><rect x="312.5" y="792.5" width="3" height="7" fill="#fff"/><rect x="317.5" y="778.5" width="3" height="13" fill="#fff"/><path d="M322 763.5H326"/><rect x="327.5" y="725.5" width="3" height="22" fill="#fff"/><path d="M332 733.5H336"/><rect x="337.5" y="728.5" width="3" height="5" fill="#fff"/><rect x="341.5" y="729.5" width="3" height="11" fill="#000"/><rect x="346.5" y="747.5" width="3" height="5" fill="#000"/><rect x="351.5" y="725.5" width="3" height="44" fill="#fff"/><rect x="356.5" y="714.5" width="3" height="19" fill="#fff"/><rect x="361.5" y="686.5" width="3" height="24" fill="#fff"/><rect x="366.5" y="686.5" width="3" height="10" fill="#000"/><rect x="371.5" y="670.5" width="3" height="15" fill="#fff"/><rect x="376.5" y="669.5" width="3" height="3" fill="#000"/><rect x="380.5" y="654.5" width="3" height="11" fill="#fff"/><rect x="385.5" y="644.5" width="3" height="19" fill="#000"/><rect x="390.5" y="650.5" width="3" height="9" fill="#fff"/><rect x="395.5" y="634.5" width="3" height="19" fill="#fff"/><rect x="400.5" y="636.5" width="3" height="3" fill="#fff"/><rect x="405.5" y="634.5" width="3" height="27" fill="#000"/><rect x="410.5" y="676.5" width="3" height="4" fill="#000"/><rect x="414.5" y="676.5" width="3" height="7" fill="#fff"/><path d="M419 678.5H423"/><rect x="424.5" y="691.5" width="3" height="25" fill="#000"/><rect x="429.5" y="704.5" width="3" height="18" fill="#fff"/><rect x="434.5" y="702.5" width="3" height="3" fill="#fff"/><rect x="439.5" y="693.5" width="3" height="11" fill="#fff"/><rect x="444.5" y="713.5" width="3" height="35" fill="#000"/><rect x="449.5" y="751.5" width="3" height="6" fill="#fff"/><rect x="453.5" y="733.5" width="3" height="4" fill="#fff"/><rect x="458.5" y="727.5" width="3" height="5" fill="#fff"/><rect x="463.5" y="676.5" width="3" height="30" fill="#fff"/><path d="M468 665.5H472"/><rect x="473.5" y="658.5" width="3" height="6" fill="#000"/><rect x="478.5" y="640.5" width="3" height="17" fill="#fff"/><rect x="483.5" y="653.5" width="3" height="3" fill="#000"/><rect x="487.5" y="595.5" width="3" height="25" fill="#fff"/><rect x="492.5" y="595.5" width="3" height="7" fill="#fff"/><rect x="497.5" y="589.5" width="3" height="29" fill="#000"/><rect x="502.5" y="601.5" width="3" height="19" fill="#fff"/><rect x="507.5" y="579.5" width="3" height="21" fill="#fff"/><rect x="512.5" y="579.5" width="3" height="4" fill="#fff"/><rect x="517.5" y="570.5" width="3" height="11" fill="#fff"/><rect x="522.5" y="567.5" width="3" height="38" fill="#000"/><rect x="526.5" y="597.5" width="3" height="8" fill="#fff"/><rect x="531.5" y="590.5" width="3" height="8" fill="#fff"/><rect x="536.5" y="540.5" width="3" height="41" fill="#fff"/><rect x="541.5" y="547.5" width="3" height="3" fill="#fff"/><rect x="546.5" y="548.5" width="3" height="6" fill="#fff"/><rect x="551.5" y="535.5" width="3" height="8" fill="#fff"/><rect x="556.5" y="532.5" width="3" height="42" fill="#000"/><rect x="561.5" y="536.5" width="3" height="17" fill="#fff"/><path d="M565 547.5H569"/><rect x="570.5" y="550.5" width="3" height="8" fill="#fff"/><rect x="575.5" y="558.5" width="3" height="4" fill="#000"/><rect x="580.5" y="563.5" width="3" height="6" fill="#000"/><rect x="585.5" y="574.5" width="3" height="7" fill="#000"/><rect x="590.5" y="571.5" width="3" height="3" fill="#fff"/><rect x="595.5" y="544.5" width="3" height="5" fill="#fff"/><rect x="599.5" y="540.5" width="3" height="30" fill="#000"/><rect x="604.5" y="540.5" width="3" height="13" fill="#fff"/><rect x="609.5" y="524.5" width="3" height="33" fill="#000"/><rect x="614.5" y="544.5" width="3" height="10" fill="#fff"/><rect x="619.5" y="524.5" width="3" height="23" fill="#000"/><rect x="624.5" y="550.5" width="3" height="31" fill="#000"/><rect x="629.5" y="582.5" width="3" height="5" fill="#000"/><rect x="634.5" y="571.5" width="3" height="10" fill="#fff"/><rect x="638.5" y="551.5" width="3" height="7" fill="#fff"/><rect x="643.5" y="516.5" width="3" height="23" fill="#000"/><rect x="648.5" y="528.5" width="3" height="15" fill="#fff"/><rect x="653.5" y="520.5" width="3" height="10" fill="#000"/><path d="M658 515.5H662"/><path d="M663 540.5H667"/><rect x="668.5" y="520.5" width="3" height="23" fill="#fff"/><rect x="673.5" y="520.5" width="3" height="7" fill="#000"/><rect x="677.5" y="504.5" width="3" height="19" fill="#fff"/><rect x="682.5" y="520.5" width="3" height="23" fill="#000"/><rect x="687.5" y="532.5" width="3" height="15" fill="#fff"/><rect x="692.5" y="532.5" width="3" height="11" fill="#fff"/><rect x="697.5" y="500.5" width="3" height="11" fill="#000"/><rect x="702.5" y="496.5" width="3" height="6" fill="#fff"/><path d="M707 511.5H711"/><rect x="711.5" y="504.5" width="3" height="7" fill="#000"/><rect x="716.5" y="504.5" width="3" height="7" fill="#000"/><rect x="721.5" y="516.5" width="3" height="19" fill="#000"/><rect x="726.5" y="516.5" width="3" height="15" fill="#000"/><rect x="731.5" y="504.5" width="3" height="27" fill="#fff"/><rect x="736.5" y="496.5" width="3" height="7" fill="#000"/><rect x="741.5" y="511.5" width="3" height="5" fill="#fff"/><rect x="746.5" y="520.5" width="3" height="10" fill="#000"/><rect x="750.5" y="540.5" width="3" height="9" fill="#000"/><rect x="755.5" y="562.5" width="3" height="8" fill="#000"/><rect x="760.5" y="554.5" width="3" height="41" fill="#000"/><rect x="765.5" y="602.5" width="3" height="12" fill="#000"/><rect x="770.5" y="601.5" width="3" height="19" fill="#fff"/><path d="M775 598.5H779"/><path d="M780 612.5H784"/><rect x="785.5" y="595.5" width="3" height="20" fill="#fff"/><rect x="789.5" y="585.5" width="3" height="18" fill="#000"/><rect x="794.5" y="579.5" width="3" height="3" fill="#fff"/><rect x="799.5" y="579.5" width="3" height="15" fill="#fff"/><rect x="804.5" y="570.5" width="3" height="24" fill="#fff"/><rect x="809.5" y="574.5" width="3" height="4" fill="#fff"/><rect x="814.5" y="582.5" width="3" height="4" fill="#fff"/><rect x="819.5" y="586.5" width="3" height="3" fill="#000"/><rect x="823.5" y="562.5" width="3" height="21" fill="#fff"/><rect x="828.5" y="554.5" width="3" height="4" fill="#fff"/><rect x="833.5" y="528.5" width="3" height="22" fill="#fff"/><rect x="838.5" y="504.5" width="3" height="11" fill="#fff"/><rect x="843.5" y="500.5" width="3" height="23" fill="#fff"/><rect x="848.5" y="488.5" width="3" height="27" fill="#fff"/><rect x="853.5" y="476.5" width="3" height="59" fill="#000"/><rect x="858.5" y="544.5" width="3" height="17" fill="#000"/><rect x="862.5" y="570.5" width="3" height="20" fill="#000"/><rect x="867.5" y="582.5" width="3" height="3" fill="#000"/><rect x="872.5" y="579.5" width="3" height="8" fill="#fff"/><rect x="877.5" y="584.5" width="3" height="4" fill="#000"/><rect x="882.5" y="599.5" width="3" height="9" fill="#000"/><rect x="887.5" y="599.5" width="3" height="3" fill="#000"/><rect x="892.5" y="624.5" width="3" height="13" fill="#000"/><rect x="896.5" y="621.5" width="3" height="16" fill="#fff"/><rect x="901.5" y="607.5" width="3" height="8" fill="#000"/><rect x="906.5" y="622.5" width="3" height="9" fill="#000"/><rect x="911.5" y="620.5" width="3" height="21" fill="#fff"/><rect x="916.5" y="620.5" width="3" height="13" fill="#fff"/><rect x="921.5" y="612.5" width="3" height="11" fill="#fff"/><rect x="926.5" y="614.5" width="3" height="23" fill="#000"/><rect x="931.5" y="621.5" width="3" height="12" fill="#fff"/><rect x="935.5" y="628.5" width="3" height="30" fill="#000"/><rect x="940.5" y="634.5" width="3" height="7" fill="#000"/><rect x="945.5" y="599.5" width="3" height="38" fill="#fff"/><rect x="950.5" y="599.5" width="3" height="7" fill="#fff"/><rect x="955.5" y="500.5" width="3" height="59" fill="#fff"/><rect x="960.5" y="401.5" width="3" height="70" fill="#fff"/><rect x="965.5" y="406.5" width="3" height="29" fill="#000"/><rect x="970.5" y="401.5" width="3" height="22" fill="#fff"/><rect x="974.5" y="394.5" width="3" height="7" fill="#fff"/><rect x="979.5" y="378.5" width="3" height="15" fill="#000"/><rect x="984.5" y="370.5" width="3" height="10" fill="#fff"/><rect x="989.5" y="378.5" width="3" height="7" fill="#fff"/><rect x="994.5" y="386.5" width="3" height="7" fill="#fff"/><rect x="999.5" y="390.5" width="3" height="66" fill="#000"/><rect x="1004.5" y="440.5" width="3" height="20" fill="#fff"/><rect x="1008.5" y="424.5" width="3" height="12" fill="#fff"/><rect x="1013.5" y="424.5" width="3" height="7" fill="#fff"/><rect x="1018.5" y="393.5" width="3" height="12" fill="#fff"/><rect x="1023.5" y="406.5" width="3" height="10" fill="#000"/><path d="M1028 424.5H1032"/><rect x="1033.5" y="409.5" width="3" height="11" fill="#fff"/><rect x="1038.5" y="374.5" width="3" height="34" fill="#fff"/><rect x="1043.5" y="338.5" width="3" height="23" fill="#fff"/><rect x="1047.5" y="278.5" width="3" height="28" fill="#fff"/><rect x="1052.5" y="386.5" width="3" height="53" fill="#000"/><rect x="1057.5" y="406.5" width="3" height="6" fill="#fff"/><rect x="1062.5" y="420.5" width="3" height="52" fill="#000"/><rect x="1067.5" y="449.5" width="3" height="27" fill="#000"/><rect x="1072.5" y="500.5" width="3" height="7" fill="#000"/><rect x="1077.5" y="520.5" width="3" height="23" fill="#000"/><rect x="1082.5" y="544.5" width="3" height="23" fill="#fff"/><rect x="1086.5" y="536.5" width="3" height="6" fill="#fff"/><rect x="1091.5" y="532.5" width="3" height="15" fill="#fff"/><rect x="1096.5" y="528.5" width="3" height="15" fill="#000"/><rect x="1101.5" y="512.5" width="3" height="23" fill="#fff"/><rect x="1106.5" y="461.5" width="3" height="42" fill="#fff"/><rect x="1111.5" y="449.5" width="3" height="22" fill="#fff"/><rect x="1116.5" y="452.5" width="3" height="31" fill="#000"/><rect x="1120.5" y="500.5" width="3" height="7" fill="#fff"/><rect x="1125.5" y="484.5" width="3" height="39" fill="#000"/><rect x="1130.5" y="477.5" width="3" height="30" fill="#fff"/><rect x="1135.5" y="449.5" width="3" height="22" fill="#000"/><rect x="1140.5" y="465.5" width="3" height="18" fill="#000"/><rect x="1145.5" y="512.5" width="3" height="7" fill="#000"/><rect x="1150.5" y="499.5" width="3" height="4" fill="#000"/><rect x="1155.5" y="516.5" width="3" height="11" fill="#000"/><path d="M1159 523.5H1163"/><rect x="1164.5" y="503.5" width="3" height="4" fill="#fff"/><rect x="1169.5" y="504.5" width="3" height="6" fill="#fff"/><path d="M1174 515.5H1178"/><path d="M1179 495.5H1183"/><rect x="1184.5" y="496.5" width="3" height="31" fill="#000"/><rect x="1189.5" y="520.5" width="3" height="19" fill="#fff"/><rect x="1194.5" y="528.5" width="3" height="11" fill="#000"/><rect x="1198.5" y="512.5" width="3" height="15" fill="#fff"/><rect x="1203.5" y="516.5" width="3" height="7" fill="#fff"/><rect x="1208.5" y="476.5" width="3" height="12" fill="#fff"/><rect x="1213.5" y="460.5" width="3" height="11" fill="#fff"/><rect x="1218.5" y="460.5" width="3" height="8" fill="#fff"/><rect x="1223.5" y="484.5" width="3" height="19" fill="#000"/><rect x="1228.5" y="516.5" width="3" height="11" fill="#fff"/><path d="M1232 516.5H1236"/><rect x="1237.5" y="516.5" width="3" height="7" fill="#000"/><rect x="1242.5" y="469.5" width="3" height="34" fill="#fff"/><rect x="1247.5" y="440.5" width="3" height="43" fill="#000"/><rect x="1252.5" y="460.5" width="3" height="27" fill="#fff"/><rect x="1257.5" y="449.5" width="3" height="14" fill="#fff"/><rect x="1262.5" y="449.5" width="3" height="18" fill="#000"/><path d="M1267 477.5H1271"/><rect x="1271.5" y="452.5" width="3" height="7" fill="#fff"/><rect x="1276.5" y="420.5" width="3" height="12" fill="#fff"/><rect x="1281.5" y="452.5" width="3" height="15" fill="#000"/><rect x="1286.5" y="457.5" width="3" height="10" fill="#fff"/><path d="M1291 441.5H1295"/><rect x="1296.5" y="456.5" width="3" height="4" fill="#000"/><rect x="1301.5" y="460.5" width="3" height="18" fill="#000"/><rect x="1305.5" y="469.5" width="3" height="3" fill="#000"/><path d="M1310 444.5H1314"/><rect x="1315.5" y="417.5" width="3" height="42" fill="#fff"/><rect x="1320.5" y="370.5" width="3" height="27" fill="#fff"/><rect x="1325.5" y="361.5" width="3" height="36" fill="#fff"/><rect x="1330.5" y="357.5" width="3" height="5" fill="#fff"/><rect x="1335.5" y="382.5" width="3" height="23" fill="#fff"/><rect x="1340.5" y="401.5" width="3" height="15" fill="#000"/><rect x="1344.5" y="417.5" width="3" height="18" fill="#fff"/><path d="M1349 412.5H1353"/><rect x="1354.5" y="397.5" width="3" height="4" fill="#000"/><rect x="1359.5" y="394.5" width="3" height="18" fill="#000"/><rect x="1364.5" y="377.5" width="3" height="4" fill="#000"/><rect x="1369.5" y="334.5" width="3" height="39" fill="#fff"/><rect x="1374.5" y="314.5" width="3" height="27" fill="#000"/><rect x="1379.5" y="358.5" width="3" height="11" fill="#000"/><rect x="1383.5" y="369.5" width="3" height="4" fill="#fff"/><rect x="1388.5" y="354.5" width="3" height="11" fill="#000"/><rect x="1393.5" y="326.5" width="3" height="19" fill="#fff"/><rect x="1398.5" y="319.5" width="3" height="14" fill="#fff"/><rect x="1403.5" y="310.5" width="3" height="8" fill="#000"/><rect x="1408.5" y="282.5" width="3" height="11" fill="#fff"/><rect x="1413.5" y="278.5" width="3" height="15" fill="#000"/><rect x="1417.5" y="319.5" width="3" height="6" fill="#fff"/><rect x="1422.5" y="338.5" width="3" height="15" fill="#fff"/><path d="M1427 341.5H1431"/><rect x="1432.5" y="299.5" width="3" height="42" fill="#fff"/><rect x="1437.5" y="322.5" width="3" height="15" fill="#000"/><rect x="1442.5" y="350.5" width="3" height="11" fill="#000"/><rect x="1447.5" y="346.5" width="3" height="26" fill="#000"/><rect x="1452.5" y="370.5" width="3" height="22" fill="#fff"/><rect x="1456.5" y="342.5" width="3" height="23" fill="#fff"/><rect x="1461.5" y="326.5" width="3" height="7" fill="#fff"/><rect x="1466.5" y="263.5" width="3" height="35" fill="#fff"/><rect x="1471.5" y="263.5" width="3" height="11" fill="#fff"/><rect x="1476.5" y="224.5" width="3" height="65" fill="#fff"/><rect x="1481.5" y="248.5" width="3" height="11" fill="#000"/><rect x="1486.5" y="274.5" width="3" height="47" fill="#000"/><rect x="1491.5" y="294.5" width="3" height="19" fill="#fff"/><rect x="1495.5" y="196.5" width="3" height="89" fill="#fff"/><rect x="1500.5" y="184.5" width="3" height="51" fill="#000"/><rect x="1505.5" y="224.5" width="3" height="11" fill="#fff"/><rect x="1510.5" y="240.5" width="3" height="7" fill="#fff"/><rect x="1515.5" y="207.5" width="3" height="4" fill="#fff"/><rect x="1520.5" y="172.5" width="3" height="15" fill="#000"/><rect x="1525.5" y="169.5" width="3" height="18" fill="#000"/><rect x="1529.5" y="169.5" width="3" height="29" fill="#fff"/><rect x="1534.5" y="160.5" width="3" height="19" fill="#fff"/><rect x="1539.5" y="192.5" width="3" height="7" fill="#000"/><rect x="1544.5" y="184.5" width="3" height="10" fill="#fff"/><rect x="1549.5" y="200.5" width="3" height="7" fill="#000"/><rect x="1554.5" y="220.5" width="3" height="58" fill="#fff"/><rect x="1559.5" y="235.5" width="3" height="4" fill="#fff"/><rect x="1564.5" y="172.5" width="3" height="51" fill="#fff"/><rect x="1568.5" y="208.5" width="3" height="47" fill="#000"/><rect x="1573.5" y="216.5" width="3" height="27" fill="#fff"/><rect x="1578.5" y="232.5" width="3" height="53" fill="#000"/><rect x="1583.5" y="228.5" width="3" height="37" fill="#fff"/><rect x="1588.5" y="236.5" width="3" height="11" fill="#fff"/><rect x="1593.5" y="267.5" width="3" height="6" fill="#000"/><rect x="1598.5" y="260.5" width="3" height="14" fill="#000"/><rect x="1603.5" y="251.5" width="3" height="14" fill="#000"/><path d="M1607 266.5H1611"/><rect x="1612.5" y="228.5" width="3" height="7" fill="#000"/><rect x="1617.5" y="196.5" width="3" height="85" fill="#000"/><rect x="1622.5" y="290.5" width="3" height="28" fill="#000"/><rect x="1627.5" y="306.5" width="3" height="20" fill="#000"/><path d="M1632 313.5H1636"/><path d="M1637 298.5H1641"/><rect x="1641.5" y="286.5" width="3" height="19" fill="#fff"/><rect x="1646.5" y="278.5" width="3" height="7" fill="#fff"/><rect x="1651.5" y="248.5" width="3" height="45" fill="#000"/><rect x="1656.5" y="263.5" width="3" height="18" fill="#fff"/><rect x="1661.5" y="286.5" width="3" height="12" fill="#000"/><rect x="1666.5" y="319.5" width="3" height="14" fill="#fff"/><rect x="1671.5" y="342.5" width="3" height="11" fill="#000"/><rect x="1676.5" y="346.5" width="3" height="23" fill="#000"/><rect x="1680.5" y="378.5" width="3" height="11" fill="#000"/><rect x="1685.5" y="386.5" width="3" height="11" fill="#fff"/><rect x="1690.5" y="382.5" width="3" height="23" fill="#fff"/><rect x="1695.5" y="386.5" width="3" height="7" fill="#000"/><rect x="1700.5" y="374.5" width="3" height="23" fill="#fff"/><rect x="1705.5" y="374.5" width="3" height="15" fill="#fff"/><rect x="1710.5" y="361.5" width="3" height="4" fill="#000"/><rect x="1714.5" y="362.5" width="3" height="27" fill="#fff"/><rect x="1719.5" y="346.5" width="3" height="7" fill="#fff"/><rect x="1724.5" y="306.5" width="3" height="34" fill="#fff"/><rect x="1729.5" y="196.5" width="3" height="97" fill="#fff"/><rect x="1734.5" y="144.5" width="3" height="63" fill="#fff"/><rect x="1739.5" y="86.5" width="3" height="41" fill="#fff"/><rect x="1744.5" y="73.5" width="3" height="27" fill="#fff"/><rect x="1749.5" y="61.5" width="3" height="11" fill="#fff"/><rect x="1753.5" y="81.5" width="3" height="27" fill="#fff"/><rect x="1758.5" y="73.5" width="3" height="15" fill="#fff"/><rect x="1763.5" y="89.5" width="3" height="47" fill="#000"/><rect x="1768.5" y="98.5" width="3" height="29" fill="#fff"/><rect x="1773.5" y="78.5" width="3" height="19" fill="#000"/></g>
<g stroke="#000" stroke-width="1.25" fill="none"><path d="M1828.5 0V1080M0 895.5H1828M0 923.5H1920"/><path d="M1828 859.2H1833.3"/><path d="M1828 819.7H1833.3"/><path d="M1828 780.3H1833.3"/><path d="M1828 740.8H1833.3"/><path d="M1828 701.3H1833.3"/><path d="M1828 661.9H1833.3"/><path d="M1828 622.4H1833.3"/><path d="M1828 583H1833.3"/><path d="M1828 543.5H1833.3"/><path d="M1828 504H1833.3"/><path d="M1828 464.6H1833.3"/><path d="M1828 425.1H1833.3"/><path d="M1828 385.6H1833.3"/><path d="M1828 346.2H1833.3"/><path d="M1828 306.7H1833.3"/><path d="M1828 267.2H1833.3"/><path d="M1828 227.8H1833.3"/><path d="M1828 188.3H1833.3"/><path d="M1828 148.9H1833.3"/><path d="M1828 109.4H1833.3"/><path d="M1828 69.9H1833.3"/><path d="M1828 30.5H1833.3"/><path d="M1828 956.3H1833.3"/><path d="M1828 995H1833.3"/><path d="M1828 1033.6H1833.3"/><path d="M1828 1072.4H1833.3"/><path d="M21.5 895V901"/><path d="M123.5 895V901"/><path d="M225.5 895V901"/><path d="M337.5 895V901"/><path d="M440.5 895V901"/><path d="M547.5 895V901"/><path d="M654.5 895V901"/><path d="M746.5 895V901"/><path d="M849.5 895V901"/><path d="M951.5 895V901"/><path d="M1048.5 895V901"/><path d="M1146.5 895V901"/><path d="M1258.5 895V901"/><path d="M1350.5 895V901"/><path d="M1462.5 895V901"/><path d="M1569.5 895V901"/><path d="M1671.5 895V901"/></g>
<g font-family="'Liberation Sans',Arial,sans-serif" font-weight="bold"><text transform="translate(1916.8 868.8) scale(0.805 1)" font-size="24.3" fill="#000" text-anchor="end">1.30</text><text transform="translate(1916.8 829.3) scale(0.805 1)" font-size="24.3" fill="#000" text-anchor="end">1.40</text><text transform="translate(1916.8 789.9) scale(0.805 1)" font-size="24.3" fill="#000" text-anchor="end">1.50</text><text transform="translate(1916.8 750.4) scale(0.805 1)" font-size="24.3" fill="#000" text-anchor="end">1.60</text><text transform="translate(1916.8 710.9) scale(0.805 1)" font-size="24.3" fill="#000" text-anchor="end">1.70</text><text transform="translate(1916.8 671.5) scale(0.805 1)" font-size="24.3" fill="#000" text-anchor="end">1.80</text><text transform="translate(1916.8 632) scale(0.805 1)" font-size="24.3" fill="#000" text-anchor="end">1.90</text><text transform="translate(1916.8 592.6) scale(0.805 1)" font-size="24.3" fill="#000" text-anchor="end">2.00</text><text transform="translate(1916.8 553.1) scale(0.805 1)" font-size="24.3" fill="#000" text-anchor="end">2.10</text><text transform="translate(1916.8 513.6) scale(0.805 1)" font-size="24.3" fill="#000" text-anchor="end">2.20</text><text transform="translate(1916.8 474.2) scale(0.805 1)" font-size="24.3" fill="#000" text-anchor="end">2.30</text><text transform="translate(1916.8 434.7) scale(0.805 1)" font-size="24.3" fill="#000" text-anchor="end">2.40</text><text transform="translate(1916.8 395.2) scale(0.805 1)" font-size="24.3" fill="#000" text-anchor="end">2.50</text><text transform="translate(1916.8 355.8) scale(0.805 1)" font-size="24.3" fill="#000" text-anchor="end">2.60</text><text transform="translate(1916.8 316.3) scale(0.805 1)" font-size="24.3" fill="#000" text-anchor="end">2.70</text><text transform="translate(1916.8 276.8) scale(0.805 1)" font-size="24.3" fill="#000" text-anchor="end">2.80</text><text transform="translate(1916.8 237.4) scale(0.805 1)" font-size="24.3" fill="#000" text-anchor="end">2.90</text><text transform="translate(1916.8 197.9) scale(0.805 1)" font-size="24.3" fill="#000" text-anchor="end">3.00</text><text transform="translate(1916.8 158.5) scale(0.805 1)" font-size="24.3" fill="#000" text-anchor="end">3.10</text><text transform="translate(1916.8 119) scale(0.805 1)" font-size="24.3" fill="#000" text-anchor="end">3.20</text><text transform="translate(1916.8 79.5) scale(0.805 1)" font-size="24.3" fill="#000" text-anchor="end">3.30</text><text transform="translate(1916.8 40.1) scale(0.805 1)" font-size="24.3" fill="#000" text-anchor="end">3.40</text><text transform="translate(1916.8 965.9) scale(0.825 1)" font-size="24.3" fill="#000" text-anchor="end">60M</text><text transform="translate(1916.8 1004.6) scale(0.825 1)" font-size="24.3" fill="#000" text-anchor="end">40M</text><text transform="translate(1916.8 1043.2) scale(0.825 1)" font-size="24.3" fill="#000" text-anchor="end">20M</text><text transform="translate(1916.8 1082) scale(0.825 1)" font-size="24.3" fill="#000" text-anchor="end">0</text><text transform="translate(23.7 917.6) scale(0.805 1)" font-size="24.3" fill="#000" text-anchor="start">Jun</text><text transform="translate(125.9 917.6) scale(0.805 1)" font-size="24.3" fill="#000" text-anchor="start">Jul</text><text transform="translate(228.2 917.6) scale(0.805 1)" font-size="24.3" fill="#000" text-anchor="start">Aug</text><text transform="translate(340.2 917.6) scale(0.805 1)" font-size="24.3" fill="#000" text-anchor="start">Sep</text><text transform="translate(442.4 917.6) scale(0.805 1)" font-size="24.3" fill="#000" text-anchor="start">Oct</text><text transform="translate(549.5 917.6) scale(0.805 1)" font-size="24.3" fill="#000" text-anchor="start">Nov</text><text transform="translate(656.6 917.6) scale(0.805 1)" font-size="24.3" fill="#000" text-anchor="start">Dec</text><text transform="translate(749.2 917.6) scale(0.805 1)" font-size="24.3" fill="#000" text-anchor="start">2024</text><text transform="translate(851.4 917.6) scale(0.805 1)" font-size="24.3" fill="#000" text-anchor="start">Feb</text><text transform="translate(953.7 917.6) scale(0.805 1)" font-size="24.3" fill="#000" text-anchor="start">Mar</text><text transform="translate(1051 917.6) scale(0.805 1)" font-size="24.3" fill="#000" text-anchor="start">Apr</text><text transform="translate(1148.4 917.6) scale(0.805 1)" font-size="24.3" fill="#000" text-anchor="start">May</text><text transform="translate(1260.4 917.6) scale(0.805 1)" font-size="24.3" fill="#000" text-anchor="start">Jun</text><text transform="translate(1352.9 917.6) scale(0.805 1)" font-size="24.3" fill="#000" text-anchor="start">Jul</text><text transform="translate(1464.9 917.6) scale(0.805 1)" font-size="24.3" fill="#000" text-anchor="start">Aug</text><text transform="translate(1572 917.6) scale(0.805 1)" font-size="24.3" fill="#000" text-anchor="start">Sep</text><text transform="translate(1674.3 917.6) scale(0.805 1)" font-size="24.3" fill="#000" text-anchor="start">Oct</text><text transform="translate(3 947.6) scale(0.823 1)" font-size="24.3" fill="#4b0082" text-anchor="start">Volume</text><text transform="translate(3 21) scale(0.819 1)" font-size="24" fill="#000" text-anchor="start">Westgold Resources Limited Ordinary (WGX) - Daily</text><rect x="14" y="57" width="32.3" height="20.9" fill="#00ff00"/><rect x="60" y="57" width="33" height="20.9" fill="#3cb371"/><rect x="14.4" y="82.3" width="32.6" height="20.7" fill="#ffb3b3"/><rect x="60" y="82.3" width="32.2" height="20.7" fill="#ff7777"/><path d="M14.4 119.1H93" stroke="#00ff00" stroke-width="6" stroke-dasharray="4.3 3.906" fill="none"/><path d="M14.4 143H93" stroke="#ff0000" stroke-width="6" stroke-dasharray="4.3 3.906" fill="none"/><text transform="translate(104.5 75) scale(0.846 1)" font-size="22.3"><tspan fill="#00ff00">Short-</tspan><tspan fill="#000"> / </tspan><tspan fill="#3cb371">Long</tspan><tspan fill="#000">-term demand zone</tspan></text><text transform="translate(104.5 100.4) scale(0.846 1)" font-size="22.3"><tspan fill="#ffb3b3">Short-</tspan><tspan fill="#000"> / </tspan><tspan fill="#ff7777">Long</tspan><tspan fill="#000">-term supply zone</tspan></text><text transform="translate(105.5 126.5) scale(0.85 1)" font-size="22.3" fill="#000" text-anchor="start">Demand point</text><text transform="translate(105.5 150.5) scale(0.85 1)" font-size="22.3" fill="#000" text-anchor="start">Supply point</text></g>
<g fill="#6868ba"><rect x="1.2" y="1066.2" width="1.8" height="5.4"/><rect x="6.1" y="1069.6" width="1.8" height="2"/><rect x="10.9" y="1068.6" width="1.8" height="3"/><rect x="15.8" y="1066.7" width="1.8" height="4.9"/><rect x="20.7" y="1068.1" width="1.8" height="3.5"/><rect x="25.5" y="1068.6" width="1.8" height="3"/><rect x="30.4" y="1068.1" width="1.8" height="3.5"/><rect x="35.3" y="1068.6" width="1.8" height="3"/><rect x="40.2" y="1061.3" width="1.8" height="10.3"/><rect x="45" y="1069.1" width="1.8" height="2.5"/><rect x="49.9" y="1066.7" width="1.8" height="4.9"/><rect x="54.8" y="1068.1" width="1.8" height="3.5"/><rect x="59.6" y="1069.1" width="1.8" height="2.5"/><rect x="64.5" y="1068.1" width="1.8" height="3.5"/><rect x="69.4" y="1062.6" width="1.8" height="9"/><rect x="74.2" y="1068.6" width="1.8" height="3"/><rect x="79.1" y="1070.1" width="1.8" height="1.5"/><rect x="84" y="1069.6" width="1.8" height="2"/><rect x="88.8" y="1070.1" width="1.8" height="1.5"/><rect x="93.7" y="1069.6" width="1.8" height="2"/><rect x="98.6" y="1069.1" width="1.8" height="2.5"/><rect x="103.4" y="1068.1" width="1.8" height="3.5"/><rect x="108.3" y="1066.7" width="1.8" height="4.9"/><rect x="113.2" y="1069.1" width="1.8" height="2.5"/><rect x="118.1" y="1069.1" width="1.8" height="2.5"/><rect x="122.9" y="1070.1" width="1.8" height="1.5"/><rect x="127.8" y="1069.1" width="1.8" height="2.5"/><rect x="132.7" y="1069.6" width="1.8" height="2"/><rect x="137.5" y="1070.1" width="1.8" height="1.5"/><rect x="142.4" y="1068.6" width="1.8" height="3"/><rect x="147.3" y="1069.6" width="1.8" height="2"/><rect x="152.1" y="1069.1" width="1.8" height="2.5"/><rect x="157" y="1069.6" width="1.8" height="2"/><rect x="161.9" y="1064.8" width="1.8" height="6.8"/><rect x="166.7" y="1066.7" width="1.8" height="4.9"/><rect x="171.6" y="1066.7" width="1.8" height="4.9"/><rect x="176.5" y="1069.1" width="1.8" height="2.5"/><rect x="181.4" y="1069.6" width="1.8" height="2"/><rect x="186.2" y="1068.1" width="1.8" height="3.5"/><rect x="191.1" y="1068.1" width="1.8" height="3.5"/><rect x="196" y="1070.1" width="1.8" height="1.5"/><rect x="200.8" y="1069.6" width="1.8" height="2"/><rect x="205.7" y="1069.1" width="1.8" height="2.5"/><rect x="210.6" y="1069.1" width="1.8" height="2.5"/><rect x="215.4" y="1069.1" width="1.8" height="2.5"/><rect x="220.3" y="1069.6" width="1.8" height="2"/><rect x="225.2" y="1069.6" width="1.8" height="2"/><rect x="230" y="1066.7" width="1.8" height="4.9"/><rect x="234.9" y="1068.1" width="1.8" height="3.5"/><rect x="239.8" y="1070.1" width="1.8" height="1.5"/><rect x="244.6" y="1069.6" width="1.8" height="2"/><rect x="249.5" y="1068.1" width="1.8" height="3.5"/><rect x="254.4" y="1069.6" width="1.8" height="2"/><rect x="259.3" y="1069.6" width="1.8" height="2"/><rect x="264.1" y="1068.1" width="1.8" height="3.5"/><rect x="269" y="1069.6" width="1.8" height="2"/><rect x="273.9" y="1069.6" width="1.8" height="2"/><rect x="278.7" y="1069.6" width="1.8" height="2"/><rect x="283.6" y="1069.6" width="1.8" height="2"/><rect x="288.5" y="1069.1" width="1.8" height="2.5"/><rect x="293.3" y="1068.6" width="1.8" height="3"/><rect x="298.2" y="1068.6" width="1.8" height="3"/><rect x="303.1" y="1069.6" width="1.8" height="2"/><rect x="307.9" y="1069.6" width="1.8" height="2"/><rect x="312.8" y="1068.6" width="1.8" height="3"/><rect x="317.7" y="1069.6" width="1.8" height="2"/><rect x="322.6" y="1069.1" width="1.8" height="2.5"/><rect x="327.4" y="1067.6" width="1.8" height="4"/><rect x="332.3" y="1067.6" width="1.8" height="4"/><rect x="337.2" y="1069.6" width="1.8" height="2"/><rect x="342" y="1069.1" width="1.8" height="2.5"/><rect x="346.9" y="1069.6" width="1.8" height="2"/><rect x="351.8" y="1069.6" width="1.8" height="2"/><rect x="356.6" y="1069.6" width="1.8" height="2"/><rect x="361.5" y="1065.4" width="1.8" height="6.2"/><rect x="366.4" y="1069.6" width="1.8" height="2"/><rect x="371.2" y="1069.6" width="1.8" height="2"/><rect x="376.1" y="1068.1" width="1.8" height="3.5"/><rect x="381" y="1069.1" width="1.8" height="2.5"/><rect x="385.9" y="1061.3" width="1.8" height="10.3"/><rect x="390.7" y="1070.1" width="1.8" height="1.5"/><rect x="395.6" y="1069.1" width="1.8" height="2.5"/><rect x="400.5" y="1068.6" width="1.8" height="3"/><rect x="405.3" y="1068.6" width="1.8" height="3"/><rect x="410.2" y="1069.6" width="1.8" height="2"/><rect x="415.1" y="1070.1" width="1.8" height="1.5"/><rect x="419.9" y="1069.6" width="1.8" height="2"/><rect x="424.8" y="1069.6" width="1.8" height="2"/><rect x="429.7" y="1066.7" width="1.8" height="4.9"/><rect x="434.5" y="1069.6" width="1.8" height="2"/><rect x="439.4" y="1069.1" width="1.8" height="2.5"/><rect x="444.3" y="1068.6" width="1.8" height="3"/><rect x="449.1" y="1069.6" width="1.8" height="2"/><rect x="454" y="1069.6" width="1.8" height="2"/><rect x="458.9" y="1069.1" width="1.8" height="2.5"/><rect x="463.8" y="1069.1" width="1.8" height="2.5"/><rect x="468.6" y="1068.6" width="1.8" height="3"/><rect x="473.5" y="1069.6" width="1.8" height="2"/><rect x="478.4" y="1070.1" width="1.8" height="1.5"/><rect x="483.2" y="1069.6" width="1.8" height="2"/><rect x="488.1" y="1070.1" width="1.8" height="1.5"/><rect x="493" y="1066.7" width="1.8" height="4.9"/><rect x="497.8" y="1065.4" width="1.8" height="6.2"/><rect x="502.7" y="1067.6" width="1.8" height="4"/><rect x="507.6" y="1069.1" width="1.8" height="2.5"/><rect x="512.4" y="1070.1" width="1.8" height="1.5"/><rect x="517.3" y="1069.1" width="1.8" height="2.5"/><rect x="522.2" y="1068.1" width="1.8" height="3.5"/><rect x="527.1" y="1069.1" width="1.8" height="2.5"/><rect x="531.9" y="1069.6" width="1.8" height="2"/><rect x="536.8" y="1069.1" width="1.8" height="2.5"/><rect x="541.7" y="1069.1" width="1.8" height="2.5"/><rect x="546.5" y="1068.1" width="1.8" height="3.5"/><rect x="551.4" y="1070.1" width="1.8" height="1.5"/><rect x="556.3" y="1069.1" width="1.8" height="2.5"/><rect x="561.1" y="1070.1" width="1.8" height="1.5"/><rect x="566" y="1068.6" width="1.8" height="3"/><rect x="570.9" y="1069.6" width="1.8" height="2"/><rect x="575.7" y="1069.1" width="1.8" height="2.5"/><rect x="580.6" y="1069.6" width="1.8" height="2"/><rect x="585.5" y="1070.1" width="1.8" height="1.5"/><rect x="590.3" y="1068.1" width="1.8" height="3.5"/><rect x="595.2" y="1069.6" width="1.8" height="2"/><rect x="600.1" y="1062.6" width="1.8" height="9"/><rect x="605" y="1069.1" width="1.8" height="2.5"/><rect x="609.8" y="1069.6" width="1.8" height="2"/><rect x="614.7" y="1069.1" width="1.8" height="2.5"/><rect x="619.6" y="1069.6" width="1.8" height="2"/><rect x="624.4" y="1069.1" width="1.8" height="2.5"/><rect x="629.3" y="1069.6" width="1.8" height="2"/><rect x="634.2" y="1065.4" width="1.8" height="6.2"/><rect x="639" y="1069.1" width="1.8" height="2.5"/><rect x="643.9" y="1067.6" width="1.8" height="4"/><rect x="648.8" y="1037.6" width="1.8" height="34"/><rect x="653.6" y="1068.6" width="1.8" height="3"/><rect x="658.5" y="1064.6" width="1.8" height="7"/><rect x="663.4" y="1063.6" width="1.8" height="8"/><rect x="668.3" y="1069.6" width="1.8" height="2"/><rect x="673.1" y="1068.1" width="1.8" height="3.5"/><rect x="678" y="1067.6" width="1.8" height="4"/><rect x="682.9" y="1070.1" width="1.8" height="1.5"/><rect x="687.7" y="1069.1" width="1.8" height="2.5"/><rect x="692.6" y="1063.6" width="1.8" height="8"/><rect x="697.5" y="1069.6" width="1.8" height="2"/><rect x="702.3" y="1063.6" width="1.8" height="8"/><rect x="707.2" y="1069.1" width="1.8" height="2.5"/><rect x="712.1" y="1069.1" width="1.8" height="2.5"/><rect x="716.9" y="1069.6" width="1.8" height="2"/><rect x="721.8" y="1066.2" width="1.8" height="5.4"/><rect x="726.7" y="1069.6" width="1.8" height="2"/><rect x="731.5" y="1069.6" width="1.8" height="2"/><rect x="736.4" y="1068.6" width="1.8" height="3"/><rect x="741.3" y="1069.1" width="1.8" height="2.5"/><rect x="746.2" y="1070.1" width="1.8" height="1.5"/><rect x="751" y="1069.6" width="1.8" height="2"/><rect x="755.9" y="1068.6" width="1.8" height="3"/><rect x="760.8" y="1069.6" width="1.8" height="2"/><rect x="765.6" y="1069.6" width="1.8" height="2"/><rect x="770.5" y="1069.6" width="1.8" height="2"/><rect x="775.4" y="1068.1" width="1.8" height="3.5"/><rect x="780.2" y="1070.1" width="1.8" height="1.5"/><rect x="785.1" y="1068.6" width="1.8" height="3"/><rect x="790" y="1069.6" width="1.8" height="2"/><rect x="794.8" y="1068.6" width="1.8" height="3"/><rect x="799.7" y="1068.6" width="1.8" height="3"/><rect x="804.6" y="1069.6" width="1.8" height="2"/><rect x="809.5" y="1069.1" width="1.8" height="2.5"/><rect x="814.3" y="1069.6" width="1.8" height="2"/><rect x="819.2" y="1068.6" width="1.8" height="3"/><rect x="824.1" y="1070.1" width="1.8" height="1.5"/><rect x="828.9" y="1070.1" width="1.8" height="1.5"/><rect x="833.8" y="1069.1" width="1.8" height="2.5"/><rect x="838.7" y="1069.1" width="1.8" height="2.5"/><rect x="843.5" y="1067.6" width="1.8" height="4"/><rect x="848.4" y="1067.6" width="1.8" height="4"/><rect x="853.3" y="1066.2" width="1.8" height="5.4"/><rect x="858.1" y="1068.6" width="1.8" height="3"/><rect x="863" y="1069.1" width="1.8" height="2.5"/><rect x="867.9" y="1069.6" width="1.8" height="2"/><rect x="872.8" y="1068.1" width="1.8" height="3.5"/><rect x="877.6" y="1069.6" width="1.8" height="2"/><rect x="882.5" y="1069.1" width="1.8" height="2.5"/><rect x="887.4" y="1068.6" width="1.8" height="3"/><rect x="892.2" y="1069.1" width="1.8" height="2.5"/><rect x="897.1" y="1065.4" width="1.8" height="6.2"/><rect x="902" y="1070.1" width="1.8" height="1.5"/><rect x="906.8" y="1068.6" width="1.8" height="3"/><rect x="911.7" y="1070.1" width="1.8" height="1.5"/><rect x="916.6" y="1068.1" width="1.8" height="3.5"/><rect x="921.4" y="1069.1" width="1.8" height="2.5"/><rect x="926.3" y="1069.6" width="1.8" height="2"/><rect x="931.2" y="1068.1" width="1.8" height="3.5"/><rect x="936" y="1067.6" width="1.8" height="4"/><rect x="940.9" y="1069.6" width="1.8" height="2"/><rect x="945.8" y="1061.3" width="1.8" height="10.3"/><rect x="950.7" y="1069.1" width="1.8" height="2.5"/><rect x="955.5" y="1063.2" width="1.8" height="8.4"/><rect x="960.4" y="1063.2" width="1.8" height="8.4"/><rect x="965.3" y="1068.1" width="1.8" height="3.5"/><rect x="970.1" y="1069.1" width="1.8" height="2.5"/><rect x="975" y="1070.1" width="1.8" height="1.5"/><rect x="979.9" y="1062.6" width="1.8" height="9"/><rect x="984.7" y="1062.1" width="1.8" height="9.5"/><rect x="989.6" y="1065.9" width="1.8" height="5.7"/><rect x="994.5" y="1064.6" width="1.8" height="7"/><rect x="999.3" y="1011.1" width="1.8" height="60.5"/><rect x="1004.2" y="1066.2" width="1.8" height="5.4"/><rect x="1009.1" y="1066.7" width="1.8" height="4.9"/><rect x="1014" y="1067.6" width="1.8" height="4"/><rect x="1018.8" y="1066.2" width="1.8" height="5.4"/><rect x="1023.7" y="1068.1" width="1.8" height="3.5"/><rect x="1028.6" y="1069.3" width="1.8" height="2.3"/><rect x="1033.4" y="1069.3" width="1.8" height="2.3"/><rect x="1038.3" y="1066.1" width="1.8" height="5.5"/><rect x="1043.2" y="1063" width="1.8" height="8.6"/><rect x="1048" y="1066.1" width="1.8" height="5.5"/><rect x="1052.9" y="1055.2" width="1.8" height="16.4"/><rect x="1057.8" y="1059.1" width="1.8" height="12.5"/><rect x="1062.6" y="1063" width="1.8" height="8.6"/><rect x="1067.5" y="1061" width="1.8" height="10.6"/><rect x="1072.4" y="1059.1" width="1.8" height="12.5"/><rect x="1077.2" y="1055.2" width="1.8" height="16.4"/><rect x="1082.1" y="1055.2" width="1.8" height="16.4"/><rect x="1087" y="1055.2" width="1.8" height="16.4"/><rect x="1091.9" y="1050.1" width="1.8" height="21.5"/><rect x="1096.7" y="1061" width="1.8" height="10.6"/><rect x="1101.6" y="1051.3" width="1.8" height="20.3"/><rect x="1106.5" y="1057.2" width="1.8" height="14.4"/><rect x="1111.3" y="1060.2" width="1.8" height="11.4"/><rect x="1116.2" y="1066.9" width="1.8" height="4.7"/><rect x="1121.1" y="1060.2" width="1.8" height="11.4"/><rect x="1125.9" y="1064.3" width="1.8" height="7.3"/><rect x="1130.8" y="1061" width="1.8" height="10.6"/><rect x="1135.7" y="1066.9" width="1.8" height="4.7"/><rect x="1140.5" y="1066.9" width="1.8" height="4.7"/><rect x="1145.4" y="1061" width="1.8" height="10.6"/><rect x="1150.3" y="1053.2" width="1.8" height="18.4"/><rect x="1155.2" y="1063.3" width="1.8" height="8.3"/><rect x="1160" y="1066.9" width="1.8" height="4.7"/><rect x="1164.9" y="1064.3" width="1.8" height="7.3"/><rect x="1169.8" y="1066.9" width="1.8" height="4.7"/><rect x="1174.6" y="1069.3" width="1.8" height="2.3"/><rect x="1179.5" y="1066.9" width="1.8" height="4.7"/><rect x="1184.4" y="1066.9" width="1.8" height="4.7"/><rect x="1189.2" y="1064.3" width="1.8" height="7.3"/><rect x="1194.1" y="1066.1" width="1.8" height="5.5"/><rect x="1199" y="1065.3" width="1.8" height="6.3"/><rect x="1203.8" y="1066.9" width="1.8" height="4.7"/><rect x="1208.7" y="1060.2" width="1.8" height="11.4"/><rect x="1213.6" y="1061" width="1.8" height="10.6"/><rect x="1218.4" y="1059.1" width="1.8" height="12.5"/><rect x="1223.3" y="1063.3" width="1.8" height="8.3"/><rect x="1228.2" y="1066.1" width="1.8" height="5.5"/><rect x="1233.1" y="1068.2" width="1.8" height="3.4"/><rect x="1237.9" y="1070" width="1.8" height="1.6"/><rect x="1242.8" y="1056.3" width="1.8" height="15.3"/><rect x="1247.7" y="1058" width="1.8" height="13.6"/><rect x="1252.5" y="1064.3" width="1.8" height="7.3"/><rect x="1257.4" y="1066.9" width="1.8" height="4.7"/><rect x="1262.3" y="1066.9" width="1.8" height="4.7"/><rect x="1267.1" y="1069.3" width="1.8" height="2.3"/><rect x="1272" y="1066.9" width="1.8" height="4.7"/><rect x="1276.9" y="1066.1" width="1.8" height="5.5"/><rect x="1281.7" y="1065" width="1.8" height="6.6"/><rect x="1286.6" y="1065" width="1.8" height="6.6"/><rect x="1291.5" y="1062.2" width="1.8" height="9.4"/><rect x="1296.4" y="1066.9" width="1.8" height="4.7"/><rect x="1301.2" y="1065" width="1.8" height="6.6"/><rect x="1306.1" y="1066.9" width="1.8" height="4.7"/><rect x="1311" y="1068.2" width="1.8" height="3.4"/><rect x="1315.8" y="1068.2" width="1.8" height="3.4"/><rect x="1320.7" y="1051.3" width="1.8" height="20.3"/><rect x="1325.6" y="1064.1" width="1.8" height="7.5"/><rect x="1330.4" y="1065.3" width="1.8" height="6.3"/><rect x="1335.3" y="1065.3" width="1.8" height="6.3"/><rect x="1340.2" y="1066.4" width="1.8" height="5.2"/><rect x="1345" y="1066.4" width="1.8" height="5.2"/><rect x="1349.9" y="1069.6" width="1.8" height="2"/><rect x="1354.8" y="1067.6" width="1.8" height="4"/><rect x="1359.7" y="1067.6" width="1.8" height="4"/><rect x="1364.5" y="1067.6" width="1.8" height="4"/><rect x="1369.4" y="1068.3" width="1.8" height="3.3"/><rect x="1374.3" y="1068.3" width="1.8" height="3.3"/><rect x="1379.1" y="1068.3" width="1.8" height="3.3"/><rect x="1384" y="1069.6" width="1.8" height="2"/><rect x="1388.9" y="1069.6" width="1.8" height="2"/><rect x="1393.7" y="1066.4" width="1.8" height="5.2"/><rect x="1398.6" y="1069.6" width="1.8" height="2"/><rect x="1403.5" y="1067.6" width="1.8" height="4"/><rect x="1408.3" y="1066.4" width="1.8" height="5.2"/><rect x="1413.2" y="1068.3" width="1.8" height="3.3"/><rect x="1418.1" y="1069.6" width="1.8" height="2"/><rect x="1422.9" y="1067.6" width="1.8" height="4"/><rect x="1427.8" y="1068.3" width="1.8" height="3.3"/><rect x="1432.7" y="1065.3" width="1.8" height="6.3"/><rect x="1437.6" y="1063.3" width="1.8" height="8.3"/><rect x="1442.4" y="1065.3" width="1.8" height="6.3"/><rect x="1447.3" y="1065.3" width="1.8" height="6.3"/><rect x="1452.2" y="1067.6" width="1.8" height="4"/><rect x="1457" y="1037.2" width="1.8" height="34.4"/><rect x="1461.9" y="1055" width="1.8" height="16.6"/><rect x="1466.8" y="1013.3" width="1.8" height="58.3"/><rect x="1471.6" y="1043.3" width="1.8" height="28.3"/><rect x="1476.5" y="1037.2" width="1.8" height="34.4"/><rect x="1481.4" y="1056.3" width="1.8" height="15.3"/><rect x="1486.2" y="1061.3" width="1.8" height="10.3"/><rect x="1491.1" y="1058.2" width="1.8" height="13.4"/><rect x="1496" y="1056.3" width="1.8" height="15.3"/><rect x="1500.9" y="1047.2" width="1.8" height="24.4"/><rect x="1505.7" y="1063.3" width="1.8" height="8.3"/><rect x="1510.6" y="1065.3" width="1.8" height="6.3"/><rect x="1515.5" y="1064.1" width="1.8" height="7.5"/><rect x="1520.3" y="1063.3" width="1.8" height="8.3"/><rect x="1525.2" y="1065.3" width="1.8" height="6.3"/><rect x="1530.1" y="1058.2" width="1.8" height="13.4"/><rect x="1534.9" y="1058.2" width="1.8" height="13.4"/><rect x="1539.8" y="1061.3" width="1.8" height="10.3"/><rect x="1544.7" y="1064.4" width="1.8" height="7.2"/><rect x="1549.5" y="1065.3" width="1.8" height="6.3"/><rect x="1554.4" y="1060.2" width="1.8" height="11.4"/><rect x="1559.3" y="1061.3" width="1.8" height="10.3"/><rect x="1564.1" y="1057.1" width="1.8" height="14.5"/><rect x="1569" y="1061.3" width="1.8" height="10.3"/><rect x="1573.9" y="1061.3" width="1.8" height="10.3"/><rect x="1578.8" y="1062.6" width="1.8" height="9"/><rect x="1583.6" y="1045.3" width="1.8" height="26.3"/><rect x="1588.5" y="1058.2" width="1.8" height="13.4"/><rect x="1593.4" y="1055" width="1.8" height="16.6"/><rect x="1598.2" y="1067.6" width="1.8" height="4"/><rect x="1603.1" y="1064.3" width="1.8" height="7.3"/><rect x="1608" y="1061.2" width="1.8" height="10.4"/><rect x="1612.8" y="1055.2" width="1.8" height="16.4"/><rect x="1617.7" y="1056.3" width="1.8" height="15.3"/><rect x="1622.6" y="1042.1" width="1.8" height="29.5"/><rect x="1627.4" y="1060.1" width="1.8" height="11.5"/><rect x="1632.3" y="1061.2" width="1.8" height="10.4"/><rect x="1637.2" y="936.6" width="1.8" height="135"/><rect x="1642.1" y="1052.3" width="1.8" height="19.3"/><rect x="1646.9" y="1060.1" width="1.8" height="11.5"/><rect x="1651.8" y="1057.6" width="1.8" height="14"/><rect x="1656.7" y="1056.3" width="1.8" height="15.3"/><rect x="1661.5" y="1056.3" width="1.8" height="15.3"/><rect x="1666.4" y="1060.1" width="1.8" height="11.5"/><rect x="1671.3" y="1063.3" width="1.8" height="8.3"/><rect x="1676.1" y="1061.2" width="1.8" height="10.4"/><rect x="1681" y="1053.4" width="1.8" height="18.2"/><rect x="1685.9" y="1064.3" width="1.8" height="7.3"/><rect x="1690.7" y="1063.3" width="1.8" height="8.3"/><rect x="1695.6" y="1060.1" width="1.8" height="11.5"/><rect x="1700.5" y="1061.2" width="1.8" height="10.4"/><rect x="1705.3" y="1065.3" width="1.8" height="6.3"/><rect x="1710.2" y="1060.1" width="1.8" height="11.5"/><rect x="1715.1" y="1063.3" width="1.8" height="8.3"/><rect x="1720" y="1067.4" width="1.8" height="4.2"/><rect x="1724.8" y="1063.3" width="1.8" height="8.3"/><rect x="1729.7" y="1056.3" width="1.8" height="15.3"/><rect x="1734.6" y="1056.5" width="1.8" height="15.1"/><rect x="1739.4" y="1059.1" width="1.8" height="12.5"/><rect x="1744.3" y="1055.5" width="1.8" height="16.1"/><rect x="1749.2" y="1059.1" width="1.8" height="12.5"/><rect x="1754" y="1061.2" width="1.8" height="10.4"/><rect x="1758.9" y="1065.3" width="1.8" height="6.3"/><rect x="1763.8" y="1060.1" width="1.8" height="11.5"/><rect x="1768.6" y="1064.3" width="1.8" height="7.3"/><rect x="1773.5" y="1066.4" width="1.8" height="5.2"/></g>
<polyline fill="none" stroke="#10109a" stroke-width="1.3" points="2,1067.1 130,1067.1 132,1068 206,1068 208,1069.6 562,1069.6 566,1070.5 598,1070.5 602,1069.2 980,1069 1000,1068.2 1040,1067.2 1064,1066.9 1066,1066.1 1088,1066.1 1090,1065.3 1113,1065.3 1115,1064.4 1181,1064.4 1183,1063.1 1240,1063.1 1242,1062.2 1303,1062.2 1305,1063 1376,1063.3 1378,1064.4 1396,1064.4 1398,1065.3 1460,1065.3 1468,1064 1476,1063.3 1512,1063.3 1515,1063.7 1531,1063.7 1536,1062.5 1585,1062.5 1589,1061.7 1634,1061.7 1641,1058.6 1644,1058 1674,1058 1676,1057.4 1722,1057.4 1724,1056.5 1770,1056.5 1774,1057.6"/>
</svg></body></html>
